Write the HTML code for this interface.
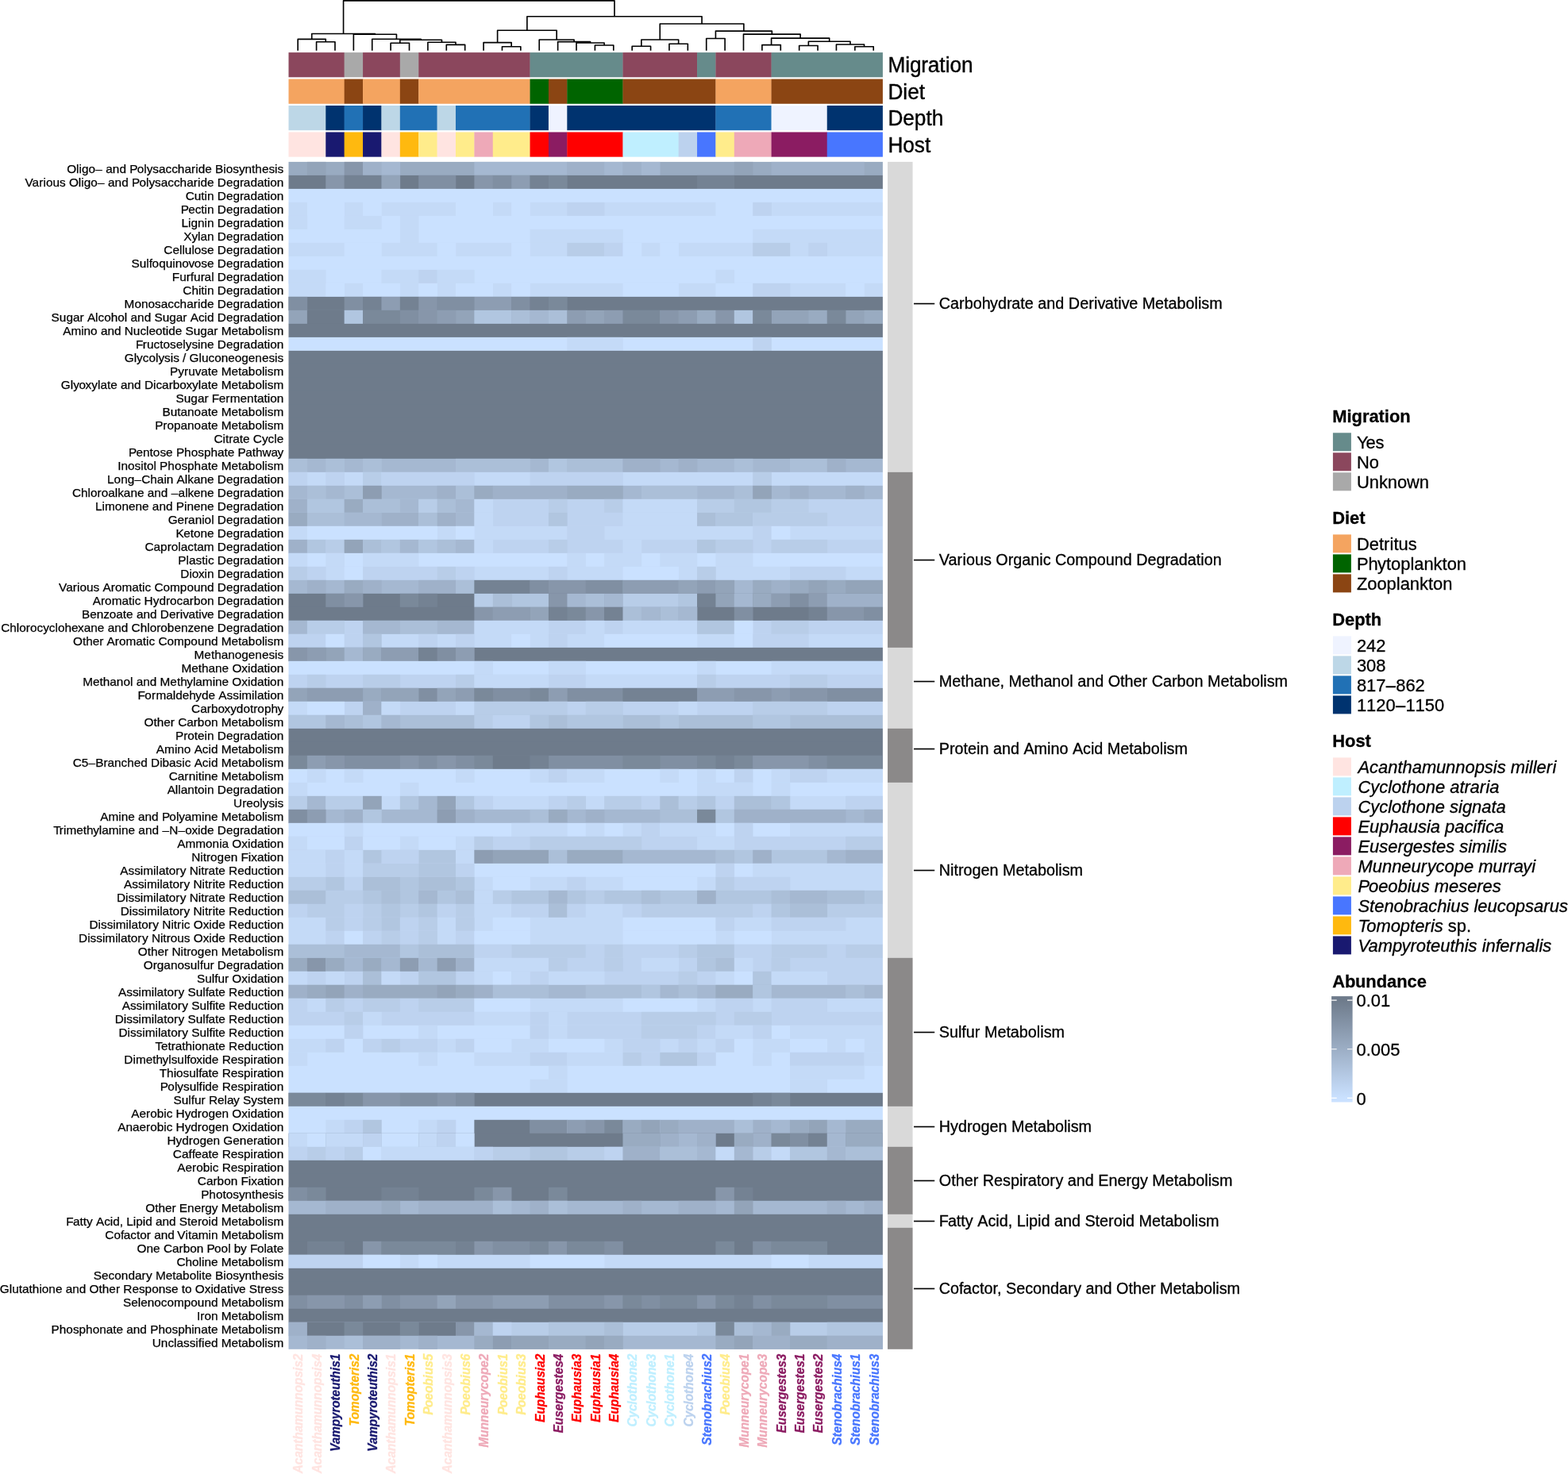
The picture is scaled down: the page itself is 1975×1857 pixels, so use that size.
<!DOCTYPE html>
<html lang="en"><head><meta charset="utf-8"><title>Abundance</title>
<style>html,body{margin:0;padding:0;background:#fff}svg{display:block}text{font-family:"Liberation Sans",sans-serif;font-kerning:none}.r{font-size:15.35px;text-anchor:end;stroke:#000;stroke-width:.25px}.c{font-size:15.35px;font-weight:bold;font-style:italic;text-anchor:end;stroke-width:.3px}.k{font-size:19.78px;stroke:#000;stroke-width:.3px}.a{font-size:26.2px;stroke:#000;stroke-width:.4px}.l{font-size:21.9px;stroke:#000;stroke-width:.3px}.t{font-size:21.9px;font-weight:bold;stroke:#000;stroke-width:.3px}.i{font-style:italic}</style></head><body>
<svg width="1975" height="1857" viewBox="0 0 1975 1857">
<rect width="1975" height="1857" fill="#fff"/>
<path d="M398.58 63.8V52.7H421.97V63.8M375.19 63.8V49.4H410.27V52.7M492.13 63.8V54.3H515.52V63.8M562.29 63.8V56.4H585.68V63.8M538.91 63.8V53.3H573.99V56.4M503.82 54.3V50.3H556.45V53.3M468.74 63.8V49.2H530.14V50.3M445.36 63.8V43.2H499.44V49.2M392.73 49.4V42.5H472.4V43.2M632.46 63.8V58.8H655.84V63.8M609.07 63.8V53.6H644.15V58.8M749.39 63.8V57H772.78V63.8M726.01 63.8V54H761.09V57M702.62 63.8V52.6H743.55V54M679.23 63.8V50H723.08V52.6M626.61 53.6V38.3H701.16V50M796.17 63.8V58.3H819.56V63.8M842.94 63.8V55.3H866.33V63.8M807.86 58.3V50H854.64V55.3M889.72 63.8V48.5H913.11V63.8M959.88 63.8V56.6H983.27V63.8M1006.66 63.8V57.5H1030.04V63.8M1076.82 63.8V58.8H1100.21V63.8M1053.43 63.8V56H1088.51V58.8M1018.35 57.5V52.3H1070.97V56M971.58 56.6V48.1H1044.66V52.3M936.49 63.8V43.1H1008.12V48.1M901.41 48.5V39.1H972.31V43.1M831.25 50V30H936.86V39.1M663.88 38.3V20.8H884.05V30M432.57 42.5V0.85H773.97V20.8" fill="none" stroke="#000" stroke-width="1.64" stroke-linejoin="round" stroke-linecap="butt"/>
<g>
<rect x="363.5" y="66.1" width="70.46" height="31.2" fill="#8B475D"/>
<rect x="433.66" y="66.1" width="23.69" height="31.2" fill="#A9A9A9"/>
<rect x="457.05" y="66.1" width="47.08" height="31.2" fill="#8B475D"/>
<rect x="503.83" y="66.1" width="23.69" height="31.2" fill="#A9A9A9"/>
<rect x="527.21" y="66.1" width="140.63" height="31.2" fill="#8B475D"/>
<rect x="667.54" y="66.1" width="117.24" height="31.2" fill="#668B8B"/>
<rect x="784.48" y="66.1" width="93.85" height="31.2" fill="#8B475D"/>
<rect x="878.03" y="66.1" width="23.69" height="31.2" fill="#668B8B"/>
<rect x="901.41" y="66.1" width="70.46" height="31.2" fill="#8B475D"/>
<rect x="971.58" y="66.1" width="140.33" height="31.2" fill="#668B8B"/>
<rect x="363.5" y="99.55" width="70.46" height="31.2" fill="#F4A460"/>
<rect x="433.66" y="99.55" width="23.69" height="31.2" fill="#8B4513"/>
<rect x="457.05" y="99.55" width="47.08" height="31.2" fill="#F4A460"/>
<rect x="503.83" y="99.55" width="23.69" height="31.2" fill="#8B4513"/>
<rect x="527.21" y="99.55" width="140.63" height="31.2" fill="#F4A460"/>
<rect x="667.54" y="99.55" width="23.69" height="31.2" fill="#006400"/>
<rect x="690.93" y="99.55" width="23.69" height="31.2" fill="#8B4513"/>
<rect x="714.31" y="99.55" width="70.46" height="31.2" fill="#006400"/>
<rect x="784.48" y="99.55" width="117.24" height="31.2" fill="#8B4513"/>
<rect x="901.41" y="99.55" width="70.46" height="31.2" fill="#F4A460"/>
<rect x="971.58" y="99.55" width="140.33" height="31.2" fill="#8B4513"/>
<rect x="363.5" y="133" width="47.08" height="31.2" fill="#BDD7E7"/>
<rect x="410.27" y="133" width="23.69" height="31.2" fill="#00336F"/>
<rect x="433.66" y="133" width="23.69" height="31.2" fill="#2171B5"/>
<rect x="457.05" y="133" width="23.69" height="31.2" fill="#00336F"/>
<rect x="480.44" y="133" width="23.69" height="31.2" fill="#BDD7E7"/>
<rect x="503.83" y="133" width="47.08" height="31.2" fill="#2171B5"/>
<rect x="550.6" y="133" width="23.69" height="31.2" fill="#BDD7E7"/>
<rect x="573.99" y="133" width="93.85" height="31.2" fill="#2171B5"/>
<rect x="667.54" y="133" width="23.69" height="31.2" fill="#00336F"/>
<rect x="690.93" y="133" width="23.69" height="31.2" fill="#EFF3FF"/>
<rect x="714.31" y="133" width="187.4" height="31.2" fill="#00336F"/>
<rect x="901.41" y="133" width="70.46" height="31.2" fill="#2171B5"/>
<rect x="971.58" y="133" width="70.46" height="31.2" fill="#EFF3FF"/>
<rect x="1041.74" y="133" width="70.16" height="31.2" fill="#00336F"/>
<rect x="363.5" y="166.45" width="47.08" height="31.2" fill="#FFE4E1"/>
<rect x="410.27" y="166.45" width="23.69" height="31.2" fill="#191970"/>
<rect x="433.66" y="166.45" width="23.69" height="31.2" fill="#FFB90F"/>
<rect x="457.05" y="166.45" width="23.69" height="31.2" fill="#191970"/>
<rect x="480.44" y="166.45" width="23.69" height="31.2" fill="#FFE4E1"/>
<rect x="503.83" y="166.45" width="23.69" height="31.2" fill="#FFB90F"/>
<rect x="527.21" y="166.45" width="23.69" height="31.2" fill="#FFEC8B"/>
<rect x="550.6" y="166.45" width="23.69" height="31.2" fill="#FFE4E1"/>
<rect x="573.99" y="166.45" width="23.69" height="31.2" fill="#FFEC8B"/>
<rect x="597.38" y="166.45" width="23.69" height="31.2" fill="#EEA9B8"/>
<rect x="620.76" y="166.45" width="47.08" height="31.2" fill="#FFEC8B"/>
<rect x="667.54" y="166.45" width="23.69" height="31.2" fill="#FF0000"/>
<rect x="690.93" y="166.45" width="23.69" height="31.2" fill="#8B1C62"/>
<rect x="714.31" y="166.45" width="70.46" height="31.2" fill="#FF0000"/>
<rect x="784.48" y="166.45" width="70.46" height="31.2" fill="#BFEFFF"/>
<rect x="854.64" y="166.45" width="23.69" height="31.2" fill="#BCD2EE"/>
<rect x="878.03" y="166.45" width="23.69" height="31.2" fill="#4876FF"/>
<rect x="901.41" y="166.45" width="23.69" height="31.2" fill="#FFEC8B"/>
<rect x="924.8" y="166.45" width="47.08" height="31.2" fill="#EEA9B8"/>
<rect x="971.58" y="166.45" width="70.46" height="31.2" fill="#8B1C62"/>
<rect x="1041.74" y="166.45" width="70.16" height="31.2" fill="#4876FF"/>
</g>
<text class="a" transform="translate(1118.4 91.3) scale(1 1.03)" dx="0 0 0 -.26 -.26">Migration</text>
<text class="a" transform="translate(1118.4 124.75) scale(1 1.03)">Diet</text>
<text class="a" transform="translate(1118.4 158.2) scale(1 1.03)">Depth</text>
<text class="a" transform="translate(1118.4 191.65) scale(1 1.03)">Host</text>
<g>
<rect x="363.5" y="203.9" width="748.4" height="17.3" fill="#99ABC1"/>
<rect x="386.89" y="203.9" width="23.69" height="17.3" fill="#93A4B9"/>
<rect x="433.66" y="203.9" width="23.69" height="17.3" fill="#8796AA"/>
<rect x="457.05" y="203.9" width="23.69" height="17.3" fill="#9FB1C9"/>
<rect x="480.44" y="203.9" width="23.69" height="17.3" fill="#A5B8D1"/>
<rect x="597.38" y="203.9" width="117.24" height="17.3" fill="#A5B8D1"/>
<rect x="714.31" y="203.9" width="47.08" height="17.3" fill="#9FB1C9"/>
<rect x="761.09" y="203.9" width="23.69" height="17.3" fill="#A5B8D1"/>
<rect x="784.48" y="203.9" width="23.69" height="17.3" fill="#9FB1C9"/>
<rect x="807.86" y="203.9" width="23.69" height="17.3" fill="#A5B8D1"/>
<rect x="924.8" y="203.9" width="23.69" height="17.3" fill="#93A4B9"/>
<rect x="971.58" y="203.9" width="117.24" height="17.3" fill="#9FB1C9"/>
<rect x="363.5" y="220.9" width="748.4" height="17.3" fill="#6E7B8B"/>
<rect x="410.27" y="220.9" width="23.69" height="17.3" fill="#8796AA"/>
<rect x="433.66" y="220.9" width="47.08" height="17.3" fill="#748293"/>
<rect x="480.44" y="220.9" width="23.69" height="17.3" fill="#93A4B9"/>
<rect x="527.21" y="220.9" width="47.08" height="17.3" fill="#808FA2"/>
<rect x="597.38" y="220.9" width="23.69" height="17.3" fill="#8796AA"/>
<rect x="620.76" y="220.9" width="23.69" height="17.3" fill="#808FA2"/>
<rect x="644.15" y="220.9" width="23.69" height="17.3" fill="#8D9DB2"/>
<rect x="667.54" y="220.9" width="23.69" height="17.3" fill="#748293"/>
<rect x="690.93" y="220.9" width="23.69" height="17.3" fill="#7A899A"/>
<rect x="878.03" y="220.9" width="47.08" height="17.3" fill="#748293"/>
<rect x="363.5" y="237.9" width="748.4" height="17.3" fill="#CAE1FF"/>
<rect x="363.5" y="254.9" width="748.4" height="17.3" fill="#C4DAF7"/>
<rect x="386.89" y="254.9" width="47.08" height="17.3" fill="#CAE1FF"/>
<rect x="457.05" y="254.9" width="23.69" height="17.3" fill="#CAE1FF"/>
<rect x="573.99" y="254.9" width="47.08" height="17.3" fill="#CAE1FF"/>
<rect x="644.15" y="254.9" width="23.69" height="17.3" fill="#CAE1FF"/>
<rect x="714.31" y="254.9" width="47.08" height="17.3" fill="#BED3F0"/>
<rect x="901.41" y="254.9" width="47.08" height="17.3" fill="#CAE1FF"/>
<rect x="948.19" y="254.9" width="23.69" height="17.3" fill="#BED3F0"/>
<rect x="363.5" y="271.9" width="748.4" height="17.3" fill="#CAE1FF"/>
<rect x="363.5" y="271.9" width="23.69" height="17.3" fill="#C4DAF7"/>
<rect x="433.66" y="271.9" width="47.08" height="17.3" fill="#C4DAF7"/>
<rect x="503.83" y="271.9" width="23.69" height="17.3" fill="#C4DAF7"/>
<rect x="363.5" y="288.89" width="748.4" height="17.3" fill="#CAE1FF"/>
<rect x="503.83" y="288.89" width="23.69" height="17.3" fill="#C4DAF7"/>
<rect x="667.54" y="288.89" width="117.24" height="17.3" fill="#C4DAF7"/>
<rect x="948.19" y="288.89" width="163.71" height="17.3" fill="#C4DAF7"/>
<rect x="363.5" y="305.89" width="748.4" height="17.3" fill="#C4DAF7"/>
<rect x="433.66" y="305.89" width="47.08" height="17.3" fill="#CAE1FF"/>
<rect x="550.6" y="305.89" width="23.69" height="17.3" fill="#CAE1FF"/>
<rect x="644.15" y="305.89" width="23.69" height="17.3" fill="#CAE1FF"/>
<rect x="714.31" y="305.89" width="47.08" height="17.3" fill="#B8CDE8"/>
<rect x="761.09" y="305.89" width="23.69" height="17.3" fill="#BED3F0"/>
<rect x="784.48" y="305.89" width="23.69" height="17.3" fill="#CAE1FF"/>
<rect x="831.25" y="305.89" width="23.69" height="17.3" fill="#CAE1FF"/>
<rect x="948.19" y="305.89" width="47.08" height="17.3" fill="#B8CDE8"/>
<rect x="1018.35" y="305.89" width="23.69" height="17.3" fill="#BED3F0"/>
<rect x="363.5" y="322.89" width="748.4" height="17.3" fill="#CAE1FF"/>
<rect x="363.5" y="339.89" width="748.4" height="17.3" fill="#CAE1FF"/>
<rect x="363.5" y="339.89" width="47.08" height="17.3" fill="#C4DAF7"/>
<rect x="480.44" y="339.89" width="47.08" height="17.3" fill="#C4DAF7"/>
<rect x="527.21" y="339.89" width="23.69" height="17.3" fill="#BED3F0"/>
<rect x="550.6" y="339.89" width="47.08" height="17.3" fill="#C4DAF7"/>
<rect x="901.41" y="339.89" width="23.69" height="17.3" fill="#C4DAF7"/>
<rect x="363.5" y="356.89" width="748.4" height="17.3" fill="#C4DAF7"/>
<rect x="410.27" y="356.89" width="23.69" height="17.3" fill="#CAE1FF"/>
<rect x="457.05" y="356.89" width="47.08" height="17.3" fill="#CAE1FF"/>
<rect x="527.21" y="356.89" width="23.69" height="17.3" fill="#CAE1FF"/>
<rect x="573.99" y="356.89" width="47.08" height="17.3" fill="#CAE1FF"/>
<rect x="644.15" y="356.89" width="23.69" height="17.3" fill="#CAE1FF"/>
<rect x="784.48" y="356.89" width="70.46" height="17.3" fill="#CAE1FF"/>
<rect x="901.41" y="356.89" width="47.08" height="17.3" fill="#CAE1FF"/>
<rect x="948.19" y="356.89" width="47.08" height="17.3" fill="#BED3F0"/>
<rect x="1065.12" y="356.89" width="23.69" height="17.3" fill="#CAE1FF"/>
<rect x="363.5" y="373.89" width="748.4" height="17.3" fill="#6E7B8B"/>
<rect x="363.5" y="373.89" width="23.69" height="17.3" fill="#808FA2"/>
<rect x="433.66" y="373.89" width="23.69" height="17.3" fill="#808FA2"/>
<rect x="457.05" y="373.89" width="23.69" height="17.3" fill="#748293"/>
<rect x="480.44" y="373.89" width="23.69" height="17.3" fill="#8D9DB2"/>
<rect x="503.83" y="373.89" width="23.69" height="17.3" fill="#748293"/>
<rect x="527.21" y="373.89" width="23.69" height="17.3" fill="#8796AA"/>
<rect x="550.6" y="373.89" width="47.08" height="17.3" fill="#808FA2"/>
<rect x="597.38" y="373.89" width="47.08" height="17.3" fill="#8D9DB2"/>
<rect x="644.15" y="373.89" width="23.69" height="17.3" fill="#808FA2"/>
<rect x="667.54" y="373.89" width="23.69" height="17.3" fill="#748293"/>
<rect x="690.93" y="373.89" width="23.69" height="17.3" fill="#7A899A"/>
<rect x="363.5" y="390.89" width="748.4" height="17.3" fill="#93A4B9"/>
<rect x="386.89" y="390.89" width="47.08" height="17.3" fill="#6E7B8B"/>
<rect x="433.66" y="390.89" width="23.69" height="17.3" fill="#B1C6E0"/>
<rect x="457.05" y="390.89" width="47.08" height="17.3" fill="#7A899A"/>
<rect x="503.83" y="390.89" width="23.69" height="17.3" fill="#808FA2"/>
<rect x="527.21" y="390.89" width="23.69" height="17.3" fill="#8796AA"/>
<rect x="550.6" y="390.89" width="23.69" height="17.3" fill="#8D9DB2"/>
<rect x="597.38" y="390.89" width="47.08" height="17.3" fill="#B1C6E0"/>
<rect x="644.15" y="390.89" width="23.69" height="17.3" fill="#ABBFD8"/>
<rect x="667.54" y="390.89" width="23.69" height="17.3" fill="#A5B8D1"/>
<rect x="690.93" y="390.89" width="23.69" height="17.3" fill="#ABBFD8"/>
<rect x="714.31" y="390.89" width="23.69" height="17.3" fill="#8D9DB2"/>
<rect x="761.09" y="390.89" width="23.69" height="17.3" fill="#8D9DB2"/>
<rect x="784.48" y="390.89" width="47.08" height="17.3" fill="#7A899A"/>
<rect x="831.25" y="390.89" width="23.69" height="17.3" fill="#8796AA"/>
<rect x="854.64" y="390.89" width="23.69" height="17.3" fill="#8D9DB2"/>
<rect x="878.03" y="390.89" width="23.69" height="17.3" fill="#99ABC1"/>
<rect x="901.41" y="390.89" width="23.69" height="17.3" fill="#8796AA"/>
<rect x="924.8" y="390.89" width="23.69" height="17.3" fill="#B1C6E0"/>
<rect x="948.19" y="390.89" width="23.69" height="17.3" fill="#7A899A"/>
<rect x="1018.35" y="390.89" width="23.69" height="17.3" fill="#99ABC1"/>
<rect x="1041.74" y="390.89" width="23.69" height="17.3" fill="#7A899A"/>
<rect x="1088.51" y="390.89" width="23.39" height="17.3" fill="#99ABC1"/>
<rect x="363.5" y="407.89" width="748.4" height="17.3" fill="#6E7B8B"/>
<rect x="363.5" y="424.89" width="748.4" height="17.3" fill="#CAE1FF"/>
<rect x="714.31" y="424.89" width="70.46" height="17.3" fill="#C4DAF7"/>
<rect x="948.19" y="424.89" width="23.69" height="17.3" fill="#BED3F0"/>
<rect x="363.5" y="441.88" width="748.4" height="17.3" fill="#6E7B8B"/>
<rect x="363.5" y="458.88" width="748.4" height="17.3" fill="#6E7B8B"/>
<rect x="363.5" y="475.88" width="748.4" height="17.3" fill="#6E7B8B"/>
<rect x="363.5" y="492.88" width="748.4" height="17.3" fill="#6E7B8B"/>
<rect x="363.5" y="509.88" width="748.4" height="17.3" fill="#6E7B8B"/>
<rect x="363.5" y="526.88" width="748.4" height="17.3" fill="#6E7B8B"/>
<rect x="363.5" y="543.88" width="748.4" height="17.3" fill="#6E7B8B"/>
<rect x="363.5" y="560.88" width="748.4" height="17.3" fill="#6E7B8B"/>
<rect x="363.5" y="577.88" width="748.4" height="17.3" fill="#A5B8D1"/>
<rect x="363.5" y="577.88" width="23.69" height="17.3" fill="#ABBFD8"/>
<rect x="410.27" y="577.88" width="23.69" height="17.3" fill="#ABBFD8"/>
<rect x="457.05" y="577.88" width="23.69" height="17.3" fill="#ABBFD8"/>
<rect x="573.99" y="577.88" width="93.85" height="17.3" fill="#ABBFD8"/>
<rect x="690.93" y="577.88" width="23.69" height="17.3" fill="#B1C6E0"/>
<rect x="714.31" y="577.88" width="70.46" height="17.3" fill="#ABBFD8"/>
<rect x="784.48" y="577.88" width="47.08" height="17.3" fill="#9FB1C9"/>
<rect x="854.64" y="577.88" width="23.69" height="17.3" fill="#9FB1C9"/>
<rect x="924.8" y="577.88" width="23.69" height="17.3" fill="#ABBFD8"/>
<rect x="994.96" y="577.88" width="47.08" height="17.3" fill="#ABBFD8"/>
<rect x="1041.74" y="577.88" width="23.69" height="17.3" fill="#9FB1C9"/>
<rect x="363.5" y="594.87" width="748.4" height="17.3" fill="#C4DAF7"/>
<rect x="363.5" y="594.87" width="23.69" height="17.3" fill="#BED3F0"/>
<rect x="410.27" y="594.87" width="23.69" height="17.3" fill="#BED3F0"/>
<rect x="457.05" y="594.87" width="23.69" height="17.3" fill="#B8CDE8"/>
<rect x="480.44" y="594.87" width="117.24" height="17.3" fill="#BED3F0"/>
<rect x="667.54" y="594.87" width="117.24" height="17.3" fill="#BED3F0"/>
<rect x="948.19" y="594.87" width="23.69" height="17.3" fill="#B8CDE8"/>
<rect x="363.5" y="611.87" width="748.4" height="17.3" fill="#A5B8D1"/>
<rect x="386.89" y="611.87" width="23.69" height="17.3" fill="#ABBFD8"/>
<rect x="433.66" y="611.87" width="23.69" height="17.3" fill="#ABBFD8"/>
<rect x="457.05" y="611.87" width="23.69" height="17.3" fill="#8D9DB2"/>
<rect x="550.6" y="611.87" width="23.69" height="17.3" fill="#9FB1C9"/>
<rect x="573.99" y="611.87" width="23.69" height="17.3" fill="#ABBFD8"/>
<rect x="597.38" y="611.87" width="23.69" height="17.3" fill="#99ABC1"/>
<rect x="620.76" y="611.87" width="93.85" height="17.3" fill="#9FB1C9"/>
<rect x="714.31" y="611.87" width="70.46" height="17.3" fill="#99ABC1"/>
<rect x="807.86" y="611.87" width="70.46" height="17.3" fill="#ABBFD8"/>
<rect x="924.8" y="611.87" width="23.69" height="17.3" fill="#ABBFD8"/>
<rect x="948.19" y="611.87" width="23.69" height="17.3" fill="#93A4B9"/>
<rect x="994.96" y="611.87" width="23.69" height="17.3" fill="#9FB1C9"/>
<rect x="1065.12" y="611.87" width="23.69" height="17.3" fill="#9FB1C9"/>
<rect x="363.5" y="628.87" width="748.4" height="17.3" fill="#BED3F0"/>
<rect x="363.5" y="628.87" width="23.69" height="17.3" fill="#9FB1C9"/>
<rect x="386.89" y="628.87" width="47.08" height="17.3" fill="#B1C6E0"/>
<rect x="433.66" y="628.87" width="23.69" height="17.3" fill="#99ABC1"/>
<rect x="457.05" y="628.87" width="47.08" height="17.3" fill="#ABBFD8"/>
<rect x="503.83" y="628.87" width="23.69" height="17.3" fill="#A5B8D1"/>
<rect x="527.21" y="628.87" width="23.69" height="17.3" fill="#B8CDE8"/>
<rect x="550.6" y="628.87" width="23.69" height="17.3" fill="#ABBFD8"/>
<rect x="573.99" y="628.87" width="23.69" height="17.3" fill="#A5B8D1"/>
<rect x="597.38" y="628.87" width="23.69" height="17.3" fill="#C4DAF7"/>
<rect x="690.93" y="628.87" width="23.69" height="17.3" fill="#B8CDE8"/>
<rect x="761.09" y="628.87" width="23.69" height="17.3" fill="#B8CDE8"/>
<rect x="784.48" y="628.87" width="93.85" height="17.3" fill="#C4DAF7"/>
<rect x="878.03" y="628.87" width="47.08" height="17.3" fill="#B8CDE8"/>
<rect x="924.8" y="628.87" width="47.08" height="17.3" fill="#B1C6E0"/>
<rect x="971.58" y="628.87" width="47.08" height="17.3" fill="#B8CDE8"/>
<rect x="363.5" y="645.87" width="748.4" height="17.3" fill="#BED3F0"/>
<rect x="363.5" y="645.87" width="23.69" height="17.3" fill="#99ABC1"/>
<rect x="386.89" y="645.87" width="47.08" height="17.3" fill="#ABBFD8"/>
<rect x="433.66" y="645.87" width="47.08" height="17.3" fill="#A5B8D1"/>
<rect x="480.44" y="645.87" width="47.08" height="17.3" fill="#9FB1C9"/>
<rect x="527.21" y="645.87" width="23.69" height="17.3" fill="#ABBFD8"/>
<rect x="550.6" y="645.87" width="23.69" height="17.3" fill="#9FB1C9"/>
<rect x="573.99" y="645.87" width="23.69" height="17.3" fill="#A5B8D1"/>
<rect x="597.38" y="645.87" width="23.69" height="17.3" fill="#C4DAF7"/>
<rect x="690.93" y="645.87" width="23.69" height="17.3" fill="#B1C6E0"/>
<rect x="784.48" y="645.87" width="93.85" height="17.3" fill="#C4DAF7"/>
<rect x="878.03" y="645.87" width="23.69" height="17.3" fill="#ABBFD8"/>
<rect x="901.41" y="645.87" width="47.08" height="17.3" fill="#B1C6E0"/>
<rect x="948.19" y="645.87" width="93.85" height="17.3" fill="#B8CDE8"/>
<rect x="363.5" y="662.87" width="748.4" height="17.3" fill="#C4DAF7"/>
<rect x="386.89" y="662.87" width="164.01" height="17.3" fill="#CAE1FF"/>
<rect x="573.99" y="662.87" width="23.69" height="17.3" fill="#CAE1FF"/>
<rect x="714.31" y="662.87" width="47.08" height="17.3" fill="#BED3F0"/>
<rect x="948.19" y="662.87" width="23.69" height="17.3" fill="#BED3F0"/>
<rect x="971.58" y="662.87" width="23.69" height="17.3" fill="#CAE1FF"/>
<rect x="363.5" y="679.87" width="748.4" height="17.3" fill="#BED3F0"/>
<rect x="363.5" y="679.87" width="23.69" height="17.3" fill="#9FB1C9"/>
<rect x="386.89" y="679.87" width="23.69" height="17.3" fill="#B1C6E0"/>
<rect x="410.27" y="679.87" width="23.69" height="17.3" fill="#B8CDE8"/>
<rect x="433.66" y="679.87" width="23.69" height="17.3" fill="#93A4B9"/>
<rect x="457.05" y="679.87" width="23.69" height="17.3" fill="#ABBFD8"/>
<rect x="480.44" y="679.87" width="23.69" height="17.3" fill="#B1C6E0"/>
<rect x="503.83" y="679.87" width="23.69" height="17.3" fill="#A5B8D1"/>
<rect x="527.21" y="679.87" width="23.69" height="17.3" fill="#B1C6E0"/>
<rect x="550.6" y="679.87" width="23.69" height="17.3" fill="#ABBFD8"/>
<rect x="573.99" y="679.87" width="23.69" height="17.3" fill="#A5B8D1"/>
<rect x="597.38" y="679.87" width="23.69" height="17.3" fill="#C4DAF7"/>
<rect x="690.93" y="679.87" width="23.69" height="17.3" fill="#B8CDE8"/>
<rect x="784.48" y="679.87" width="23.69" height="17.3" fill="#C4DAF7"/>
<rect x="878.03" y="679.87" width="23.69" height="17.3" fill="#B1C6E0"/>
<rect x="901.41" y="679.87" width="47.08" height="17.3" fill="#B8CDE8"/>
<rect x="971.58" y="679.87" width="70.46" height="17.3" fill="#B8CDE8"/>
<rect x="363.5" y="696.87" width="748.4" height="17.3" fill="#CAE1FF"/>
<rect x="363.5" y="696.87" width="23.69" height="17.3" fill="#C4DAF7"/>
<rect x="410.27" y="696.87" width="23.69" height="17.3" fill="#C4DAF7"/>
<rect x="457.05" y="696.87" width="70.46" height="17.3" fill="#C4DAF7"/>
<rect x="714.31" y="696.87" width="23.69" height="17.3" fill="#C4DAF7"/>
<rect x="761.09" y="696.87" width="47.08" height="17.3" fill="#C4DAF7"/>
<rect x="831.25" y="696.87" width="47.08" height="17.3" fill="#C4DAF7"/>
<rect x="901.41" y="696.87" width="47.08" height="17.3" fill="#C4DAF7"/>
<rect x="363.5" y="713.87" width="748.4" height="17.3" fill="#C4DAF7"/>
<rect x="363.5" y="713.87" width="23.69" height="17.3" fill="#B8CDE8"/>
<rect x="386.89" y="713.87" width="23.69" height="17.3" fill="#BED3F0"/>
<rect x="433.66" y="713.87" width="23.69" height="17.3" fill="#CAE1FF"/>
<rect x="457.05" y="713.87" width="93.85" height="17.3" fill="#BED3F0"/>
<rect x="550.6" y="713.87" width="23.69" height="17.3" fill="#B8CDE8"/>
<rect x="573.99" y="713.87" width="23.69" height="17.3" fill="#BED3F0"/>
<rect x="690.93" y="713.87" width="23.69" height="17.3" fill="#BED3F0"/>
<rect x="784.48" y="713.87" width="70.46" height="17.3" fill="#CAE1FF"/>
<rect x="878.03" y="713.87" width="23.69" height="17.3" fill="#B8CDE8"/>
<rect x="994.96" y="713.87" width="70.46" height="17.3" fill="#BED3F0"/>
<rect x="363.5" y="730.86" width="748.4" height="17.3" fill="#A5B8D1"/>
<rect x="386.89" y="730.86" width="23.69" height="17.3" fill="#9FB1C9"/>
<rect x="433.66" y="730.86" width="23.69" height="17.3" fill="#99ABC1"/>
<rect x="457.05" y="730.86" width="23.69" height="17.3" fill="#9FB1C9"/>
<rect x="527.21" y="730.86" width="47.08" height="17.3" fill="#9FB1C9"/>
<rect x="573.99" y="730.86" width="23.69" height="17.3" fill="#ABBFD8"/>
<rect x="597.38" y="730.86" width="70.46" height="17.3" fill="#748293"/>
<rect x="667.54" y="730.86" width="23.69" height="17.3" fill="#808FA2"/>
<rect x="690.93" y="730.86" width="47.08" height="17.3" fill="#8796AA"/>
<rect x="737.7" y="730.86" width="47.08" height="17.3" fill="#808FA2"/>
<rect x="784.48" y="730.86" width="70.46" height="17.3" fill="#8D9DB2"/>
<rect x="854.64" y="730.86" width="23.69" height="17.3" fill="#93A4B9"/>
<rect x="878.03" y="730.86" width="23.69" height="17.3" fill="#8D9DB2"/>
<rect x="901.41" y="730.86" width="23.69" height="17.3" fill="#93A4B9"/>
<rect x="948.19" y="730.86" width="23.69" height="17.3" fill="#99ABC1"/>
<rect x="971.58" y="730.86" width="23.69" height="17.3" fill="#9FB1C9"/>
<rect x="994.96" y="730.86" width="23.69" height="17.3" fill="#99ABC1"/>
<rect x="1018.35" y="730.86" width="23.69" height="17.3" fill="#93A4B9"/>
<rect x="1041.74" y="730.86" width="23.69" height="17.3" fill="#99ABC1"/>
<rect x="1065.12" y="730.86" width="46.78" height="17.3" fill="#93A4B9"/>
<rect x="363.5" y="747.86" width="748.4" height="17.3" fill="#6E7B8B"/>
<rect x="410.27" y="747.86" width="23.69" height="17.3" fill="#808FA2"/>
<rect x="433.66" y="747.86" width="23.69" height="17.3" fill="#8796AA"/>
<rect x="503.83" y="747.86" width="23.69" height="17.3" fill="#7A899A"/>
<rect x="527.21" y="747.86" width="23.69" height="17.3" fill="#748293"/>
<rect x="597.38" y="747.86" width="23.69" height="17.3" fill="#B8CDE8"/>
<rect x="620.76" y="747.86" width="23.69" height="17.3" fill="#ABBFD8"/>
<rect x="644.15" y="747.86" width="47.08" height="17.3" fill="#B1C6E0"/>
<rect x="690.93" y="747.86" width="23.69" height="17.3" fill="#8796AA"/>
<rect x="714.31" y="747.86" width="23.69" height="17.3" fill="#A5B8D1"/>
<rect x="737.7" y="747.86" width="23.69" height="17.3" fill="#ABBFD8"/>
<rect x="761.09" y="747.86" width="23.69" height="17.3" fill="#A5B8D1"/>
<rect x="784.48" y="747.86" width="70.46" height="17.3" fill="#B8CDE8"/>
<rect x="854.64" y="747.86" width="23.69" height="17.3" fill="#B1C6E0"/>
<rect x="878.03" y="747.86" width="23.69" height="17.3" fill="#748293"/>
<rect x="901.41" y="747.86" width="23.69" height="17.3" fill="#93A4B9"/>
<rect x="924.8" y="747.86" width="23.69" height="17.3" fill="#A5B8D1"/>
<rect x="948.19" y="747.86" width="23.69" height="17.3" fill="#99ABC1"/>
<rect x="971.58" y="747.86" width="23.69" height="17.3" fill="#8D9DB2"/>
<rect x="994.96" y="747.86" width="23.69" height="17.3" fill="#808FA2"/>
<rect x="1018.35" y="747.86" width="23.69" height="17.3" fill="#8D9DB2"/>
<rect x="1041.74" y="747.86" width="70.16" height="17.3" fill="#9FB1C9"/>
<rect x="363.5" y="764.86" width="748.4" height="17.3" fill="#6E7B8B"/>
<rect x="597.38" y="764.86" width="23.69" height="17.3" fill="#8796AA"/>
<rect x="620.76" y="764.86" width="47.08" height="17.3" fill="#8D9DB2"/>
<rect x="667.54" y="764.86" width="23.69" height="17.3" fill="#93A4B9"/>
<rect x="690.93" y="764.86" width="23.69" height="17.3" fill="#748293"/>
<rect x="714.31" y="764.86" width="23.69" height="17.3" fill="#7A899A"/>
<rect x="737.7" y="764.86" width="23.69" height="17.3" fill="#8796AA"/>
<rect x="761.09" y="764.86" width="23.69" height="17.3" fill="#748293"/>
<rect x="784.48" y="764.86" width="23.69" height="17.3" fill="#ABBFD8"/>
<rect x="807.86" y="764.86" width="23.69" height="17.3" fill="#A5B8D1"/>
<rect x="831.25" y="764.86" width="23.69" height="17.3" fill="#ABBFD8"/>
<rect x="854.64" y="764.86" width="23.69" height="17.3" fill="#A5B8D1"/>
<rect x="924.8" y="764.86" width="23.69" height="17.3" fill="#808FA2"/>
<rect x="1018.35" y="764.86" width="23.69" height="17.3" fill="#748293"/>
<rect x="1041.74" y="764.86" width="47.08" height="17.3" fill="#8796AA"/>
<rect x="1088.51" y="764.86" width="23.39" height="17.3" fill="#808FA2"/>
<rect x="363.5" y="781.86" width="748.4" height="17.3" fill="#BED3F0"/>
<rect x="363.5" y="781.86" width="23.69" height="17.3" fill="#A5B8D1"/>
<rect x="386.89" y="781.86" width="47.08" height="17.3" fill="#B8CDE8"/>
<rect x="457.05" y="781.86" width="47.08" height="17.3" fill="#A5B8D1"/>
<rect x="503.83" y="781.86" width="47.08" height="17.3" fill="#ABBFD8"/>
<rect x="550.6" y="781.86" width="47.08" height="17.3" fill="#A5B8D1"/>
<rect x="597.38" y="781.86" width="93.85" height="17.3" fill="#C4DAF7"/>
<rect x="737.7" y="781.86" width="23.69" height="17.3" fill="#C4DAF7"/>
<rect x="784.48" y="781.86" width="93.85" height="17.3" fill="#C4DAF7"/>
<rect x="878.03" y="781.86" width="47.08" height="17.3" fill="#B1C6E0"/>
<rect x="924.8" y="781.86" width="23.69" height="17.3" fill="#CAE1FF"/>
<rect x="971.58" y="781.86" width="47.08" height="17.3" fill="#B8CDE8"/>
<rect x="363.5" y="798.86" width="748.4" height="17.3" fill="#C4DAF7"/>
<rect x="363.5" y="798.86" width="47.08" height="17.3" fill="#BED3F0"/>
<rect x="410.27" y="798.86" width="23.69" height="17.3" fill="#CAE1FF"/>
<rect x="433.66" y="798.86" width="23.69" height="17.3" fill="#BED3F0"/>
<rect x="457.05" y="798.86" width="23.69" height="17.3" fill="#B1C6E0"/>
<rect x="527.21" y="798.86" width="23.69" height="17.3" fill="#BED3F0"/>
<rect x="573.99" y="798.86" width="23.69" height="17.3" fill="#BED3F0"/>
<rect x="644.15" y="798.86" width="23.69" height="17.3" fill="#CAE1FF"/>
<rect x="690.93" y="798.86" width="23.69" height="17.3" fill="#BED3F0"/>
<rect x="761.09" y="798.86" width="117.24" height="17.3" fill="#CAE1FF"/>
<rect x="924.8" y="798.86" width="23.69" height="17.3" fill="#CAE1FF"/>
<rect x="948.19" y="798.86" width="70.46" height="17.3" fill="#BED3F0"/>
<rect x="363.5" y="815.86" width="748.4" height="17.3" fill="#6E7B8B"/>
<rect x="363.5" y="815.86" width="23.69" height="17.3" fill="#8796AA"/>
<rect x="386.89" y="815.86" width="23.69" height="17.3" fill="#8D9DB2"/>
<rect x="410.27" y="815.86" width="23.69" height="17.3" fill="#93A4B9"/>
<rect x="433.66" y="815.86" width="23.69" height="17.3" fill="#A5B8D1"/>
<rect x="457.05" y="815.86" width="23.69" height="17.3" fill="#99ABC1"/>
<rect x="480.44" y="815.86" width="47.08" height="17.3" fill="#8D9DB2"/>
<rect x="527.21" y="815.86" width="23.69" height="17.3" fill="#748293"/>
<rect x="550.6" y="815.86" width="23.69" height="17.3" fill="#808FA2"/>
<rect x="573.99" y="815.86" width="23.69" height="17.3" fill="#8D9DB2"/>
<rect x="363.5" y="832.86" width="748.4" height="17.3" fill="#CAE1FF"/>
<rect x="597.38" y="832.86" width="23.69" height="17.3" fill="#C4DAF7"/>
<rect x="690.93" y="832.86" width="47.08" height="17.3" fill="#C4DAF7"/>
<rect x="878.03" y="832.86" width="23.69" height="17.3" fill="#C4DAF7"/>
<rect x="971.58" y="832.86" width="140.33" height="17.3" fill="#C4DAF7"/>
<rect x="363.5" y="849.86" width="748.4" height="17.3" fill="#BED3F0"/>
<rect x="386.89" y="849.86" width="23.69" height="17.3" fill="#B8CDE8"/>
<rect x="457.05" y="849.86" width="47.08" height="17.3" fill="#B8CDE8"/>
<rect x="573.99" y="849.86" width="23.69" height="17.3" fill="#B8CDE8"/>
<rect x="597.38" y="849.86" width="93.85" height="17.3" fill="#C4DAF7"/>
<rect x="737.7" y="849.86" width="140.63" height="17.3" fill="#C4DAF7"/>
<rect x="878.03" y="849.86" width="23.69" height="17.3" fill="#B8CDE8"/>
<rect x="994.96" y="849.86" width="47.08" height="17.3" fill="#B8CDE8"/>
<rect x="363.5" y="866.86" width="748.4" height="17.3" fill="#808FA2"/>
<rect x="363.5" y="866.86" width="23.69" height="17.3" fill="#93A4B9"/>
<rect x="386.89" y="866.86" width="70.46" height="17.3" fill="#8D9DB2"/>
<rect x="457.05" y="866.86" width="23.69" height="17.3" fill="#99ABC1"/>
<rect x="480.44" y="866.86" width="47.08" height="17.3" fill="#93A4B9"/>
<rect x="550.6" y="866.86" width="23.69" height="17.3" fill="#93A4B9"/>
<rect x="573.99" y="866.86" width="23.69" height="17.3" fill="#8D9DB2"/>
<rect x="597.38" y="866.86" width="23.69" height="17.3" fill="#7A899A"/>
<rect x="667.54" y="866.86" width="23.69" height="17.3" fill="#7A899A"/>
<rect x="690.93" y="866.86" width="23.69" height="17.3" fill="#8D9DB2"/>
<rect x="784.48" y="866.86" width="93.85" height="17.3" fill="#748293"/>
<rect x="878.03" y="866.86" width="47.08" height="17.3" fill="#8D9DB2"/>
<rect x="924.8" y="866.86" width="47.08" height="17.3" fill="#8796AA"/>
<rect x="971.58" y="866.86" width="23.69" height="17.3" fill="#8D9DB2"/>
<rect x="994.96" y="866.86" width="47.08" height="17.3" fill="#8796AA"/>
<rect x="363.5" y="883.85" width="748.4" height="17.3" fill="#BED3F0"/>
<rect x="363.5" y="883.85" width="23.69" height="17.3" fill="#C4DAF7"/>
<rect x="386.89" y="883.85" width="47.08" height="17.3" fill="#CAE1FF"/>
<rect x="457.05" y="883.85" width="23.69" height="17.3" fill="#9FB1C9"/>
<rect x="480.44" y="883.85" width="23.69" height="17.3" fill="#C4DAF7"/>
<rect x="573.99" y="883.85" width="23.69" height="17.3" fill="#C4DAF7"/>
<rect x="597.38" y="883.85" width="117.24" height="17.3" fill="#B8CDE8"/>
<rect x="737.7" y="883.85" width="47.08" height="17.3" fill="#B8CDE8"/>
<rect x="854.64" y="883.85" width="23.69" height="17.3" fill="#C4DAF7"/>
<rect x="948.19" y="883.85" width="93.85" height="17.3" fill="#B8CDE8"/>
<rect x="363.5" y="900.85" width="748.4" height="17.3" fill="#ABBFD8"/>
<rect x="363.5" y="900.85" width="47.08" height="17.3" fill="#B1C6E0"/>
<rect x="410.27" y="900.85" width="23.69" height="17.3" fill="#A5B8D1"/>
<rect x="457.05" y="900.85" width="23.69" height="17.3" fill="#B1C6E0"/>
<rect x="480.44" y="900.85" width="23.69" height="17.3" fill="#A5B8D1"/>
<rect x="597.38" y="900.85" width="23.69" height="17.3" fill="#B8CDE8"/>
<rect x="620.76" y="900.85" width="47.08" height="17.3" fill="#BED3F0"/>
<rect x="667.54" y="900.85" width="23.69" height="17.3" fill="#B1C6E0"/>
<rect x="714.31" y="900.85" width="70.46" height="17.3" fill="#B1C6E0"/>
<rect x="831.25" y="900.85" width="23.69" height="17.3" fill="#B1C6E0"/>
<rect x="948.19" y="900.85" width="47.08" height="17.3" fill="#B1C6E0"/>
<rect x="363.5" y="917.85" width="748.4" height="17.3" fill="#6E7B8B"/>
<rect x="363.5" y="934.85" width="748.4" height="17.3" fill="#6E7B8B"/>
<rect x="363.5" y="951.85" width="748.4" height="17.3" fill="#808FA2"/>
<rect x="363.5" y="951.85" width="23.69" height="17.3" fill="#7A899A"/>
<rect x="386.89" y="951.85" width="23.69" height="17.3" fill="#8D9DB2"/>
<rect x="410.27" y="951.85" width="23.69" height="17.3" fill="#8796AA"/>
<rect x="503.83" y="951.85" width="23.69" height="17.3" fill="#8796AA"/>
<rect x="550.6" y="951.85" width="23.69" height="17.3" fill="#8796AA"/>
<rect x="597.38" y="951.85" width="23.69" height="17.3" fill="#7A899A"/>
<rect x="620.76" y="951.85" width="47.08" height="17.3" fill="#6E7B8B"/>
<rect x="667.54" y="951.85" width="23.69" height="17.3" fill="#748293"/>
<rect x="784.48" y="951.85" width="47.08" height="17.3" fill="#7A899A"/>
<rect x="878.03" y="951.85" width="23.69" height="17.3" fill="#7A899A"/>
<rect x="901.41" y="951.85" width="23.69" height="17.3" fill="#748293"/>
<rect x="924.8" y="951.85" width="23.69" height="17.3" fill="#7A899A"/>
<rect x="948.19" y="951.85" width="70.46" height="17.3" fill="#8796AA"/>
<rect x="1041.74" y="951.85" width="70.16" height="17.3" fill="#7A899A"/>
<rect x="363.5" y="968.85" width="748.4" height="17.3" fill="#CAE1FF"/>
<rect x="386.89" y="968.85" width="23.69" height="17.3" fill="#C4DAF7"/>
<rect x="433.66" y="968.85" width="23.69" height="17.3" fill="#C4DAF7"/>
<rect x="573.99" y="968.85" width="23.69" height="17.3" fill="#C4DAF7"/>
<rect x="667.54" y="968.85" width="23.69" height="17.3" fill="#C4DAF7"/>
<rect x="690.93" y="968.85" width="23.69" height="17.3" fill="#BED3F0"/>
<rect x="714.31" y="968.85" width="47.08" height="17.3" fill="#C4DAF7"/>
<rect x="831.25" y="968.85" width="23.69" height="17.3" fill="#C4DAF7"/>
<rect x="878.03" y="968.85" width="23.69" height="17.3" fill="#C4DAF7"/>
<rect x="924.8" y="968.85" width="23.69" height="17.3" fill="#BED3F0"/>
<rect x="971.58" y="968.85" width="23.69" height="17.3" fill="#C4DAF7"/>
<rect x="994.96" y="968.85" width="47.08" height="17.3" fill="#BED3F0"/>
<rect x="1041.74" y="968.85" width="70.16" height="17.3" fill="#C4DAF7"/>
<rect x="363.5" y="985.85" width="748.4" height="17.3" fill="#CAE1FF"/>
<rect x="363.5" y="985.85" width="23.69" height="17.3" fill="#C4DAF7"/>
<rect x="503.83" y="985.85" width="23.69" height="17.3" fill="#C4DAF7"/>
<rect x="878.03" y="985.85" width="70.46" height="17.3" fill="#C4DAF7"/>
<rect x="971.58" y="985.85" width="23.69" height="17.3" fill="#C4DAF7"/>
<rect x="363.5" y="1002.85" width="748.4" height="17.3" fill="#C4DAF7"/>
<rect x="363.5" y="1002.85" width="23.69" height="17.3" fill="#B8CDE8"/>
<rect x="386.89" y="1002.85" width="23.69" height="17.3" fill="#A5B8D1"/>
<rect x="410.27" y="1002.85" width="47.08" height="17.3" fill="#B8CDE8"/>
<rect x="457.05" y="1002.85" width="23.69" height="17.3" fill="#93A4B9"/>
<rect x="503.83" y="1002.85" width="23.69" height="17.3" fill="#B1C6E0"/>
<rect x="527.21" y="1002.85" width="23.69" height="17.3" fill="#A5B8D1"/>
<rect x="550.6" y="1002.85" width="23.69" height="17.3" fill="#93A4B9"/>
<rect x="573.99" y="1002.85" width="23.69" height="17.3" fill="#B1C6E0"/>
<rect x="597.38" y="1002.85" width="23.69" height="17.3" fill="#BED3F0"/>
<rect x="690.93" y="1002.85" width="23.69" height="17.3" fill="#BED3F0"/>
<rect x="714.31" y="1002.85" width="23.69" height="17.3" fill="#B8CDE8"/>
<rect x="761.09" y="1002.85" width="47.08" height="17.3" fill="#B8CDE8"/>
<rect x="807.86" y="1002.85" width="23.69" height="17.3" fill="#BED3F0"/>
<rect x="831.25" y="1002.85" width="23.69" height="17.3" fill="#ABBFD8"/>
<rect x="854.64" y="1002.85" width="23.69" height="17.3" fill="#B8CDE8"/>
<rect x="878.03" y="1002.85" width="23.69" height="17.3" fill="#B1C6E0"/>
<rect x="901.41" y="1002.85" width="23.69" height="17.3" fill="#BED3F0"/>
<rect x="924.8" y="1002.85" width="47.08" height="17.3" fill="#ABBFD8"/>
<rect x="971.58" y="1002.85" width="23.69" height="17.3" fill="#B1C6E0"/>
<rect x="1065.12" y="1002.85" width="46.78" height="17.3" fill="#BED3F0"/>
<rect x="363.5" y="1019.85" width="748.4" height="17.3" fill="#A5B8D1"/>
<rect x="363.5" y="1019.85" width="23.69" height="17.3" fill="#808FA2"/>
<rect x="386.89" y="1019.85" width="23.69" height="17.3" fill="#8D9DB2"/>
<rect x="433.66" y="1019.85" width="23.69" height="17.3" fill="#9FB1C9"/>
<rect x="457.05" y="1019.85" width="23.69" height="17.3" fill="#B1C6E0"/>
<rect x="550.6" y="1019.85" width="23.69" height="17.3" fill="#8D9DB2"/>
<rect x="573.99" y="1019.85" width="23.69" height="17.3" fill="#9FB1C9"/>
<rect x="667.54" y="1019.85" width="23.69" height="17.3" fill="#ABBFD8"/>
<rect x="690.93" y="1019.85" width="23.69" height="17.3" fill="#99ABC1"/>
<rect x="737.7" y="1019.85" width="23.69" height="17.3" fill="#9FB1C9"/>
<rect x="831.25" y="1019.85" width="47.08" height="17.3" fill="#ABBFD8"/>
<rect x="878.03" y="1019.85" width="23.69" height="17.3" fill="#7A899A"/>
<rect x="901.41" y="1019.85" width="23.69" height="17.3" fill="#B1C6E0"/>
<rect x="924.8" y="1019.85" width="140.63" height="17.3" fill="#9FB1C9"/>
<rect x="1088.51" y="1019.85" width="23.39" height="17.3" fill="#9FB1C9"/>
<rect x="363.5" y="1036.84" width="748.4" height="17.3" fill="#CAE1FF"/>
<rect x="433.66" y="1036.84" width="23.69" height="17.3" fill="#C4DAF7"/>
<rect x="644.15" y="1036.84" width="70.46" height="17.3" fill="#C4DAF7"/>
<rect x="737.7" y="1036.84" width="23.69" height="17.3" fill="#C4DAF7"/>
<rect x="784.48" y="1036.84" width="23.69" height="17.3" fill="#C4DAF7"/>
<rect x="807.86" y="1036.84" width="23.69" height="17.3" fill="#BED3F0"/>
<rect x="831.25" y="1036.84" width="70.46" height="17.3" fill="#C4DAF7"/>
<rect x="924.8" y="1036.84" width="23.69" height="17.3" fill="#BED3F0"/>
<rect x="994.96" y="1036.84" width="116.94" height="17.3" fill="#C4DAF7"/>
<rect x="363.5" y="1053.84" width="748.4" height="17.3" fill="#BED3F0"/>
<rect x="363.5" y="1053.84" width="23.69" height="17.3" fill="#C4DAF7"/>
<rect x="386.89" y="1053.84" width="47.08" height="17.3" fill="#CAE1FF"/>
<rect x="457.05" y="1053.84" width="47.08" height="17.3" fill="#CAE1FF"/>
<rect x="503.83" y="1053.84" width="23.69" height="17.3" fill="#C4DAF7"/>
<rect x="527.21" y="1053.84" width="47.08" height="17.3" fill="#CAE1FF"/>
<rect x="573.99" y="1053.84" width="23.69" height="17.3" fill="#C4DAF7"/>
<rect x="597.38" y="1053.84" width="23.69" height="17.3" fill="#B8CDE8"/>
<rect x="667.54" y="1053.84" width="140.63" height="17.3" fill="#B8CDE8"/>
<rect x="878.03" y="1053.84" width="47.08" height="17.3" fill="#C4DAF7"/>
<rect x="1065.12" y="1053.84" width="46.78" height="17.3" fill="#B8CDE8"/>
<rect x="363.5" y="1070.84" width="748.4" height="17.3" fill="#B1C6E0"/>
<rect x="363.5" y="1070.84" width="47.08" height="17.3" fill="#C4DAF7"/>
<rect x="410.27" y="1070.84" width="23.69" height="17.3" fill="#BED3F0"/>
<rect x="433.66" y="1070.84" width="23.69" height="17.3" fill="#C4DAF7"/>
<rect x="480.44" y="1070.84" width="47.08" height="17.3" fill="#BED3F0"/>
<rect x="573.99" y="1070.84" width="23.69" height="17.3" fill="#C4DAF7"/>
<rect x="597.38" y="1070.84" width="23.69" height="17.3" fill="#8D9DB2"/>
<rect x="620.76" y="1070.84" width="70.46" height="17.3" fill="#93A4B9"/>
<rect x="690.93" y="1070.84" width="23.69" height="17.3" fill="#ABBFD8"/>
<rect x="714.31" y="1070.84" width="70.46" height="17.3" fill="#99ABC1"/>
<rect x="784.48" y="1070.84" width="117.24" height="17.3" fill="#A5B8D1"/>
<rect x="901.41" y="1070.84" width="23.69" height="17.3" fill="#ABBFD8"/>
<rect x="948.19" y="1070.84" width="23.69" height="17.3" fill="#9FB1C9"/>
<rect x="1041.74" y="1070.84" width="23.69" height="17.3" fill="#A5B8D1"/>
<rect x="1065.12" y="1070.84" width="46.78" height="17.3" fill="#9FB1C9"/>
<rect x="363.5" y="1087.84" width="748.4" height="17.3" fill="#CAE1FF"/>
<rect x="363.5" y="1087.84" width="47.08" height="17.3" fill="#C4DAF7"/>
<rect x="410.27" y="1087.84" width="23.69" height="17.3" fill="#BED3F0"/>
<rect x="433.66" y="1087.84" width="23.69" height="17.3" fill="#C4DAF7"/>
<rect x="457.05" y="1087.84" width="70.46" height="17.3" fill="#B8CDE8"/>
<rect x="527.21" y="1087.84" width="47.08" height="17.3" fill="#B1C6E0"/>
<rect x="573.99" y="1087.84" width="23.69" height="17.3" fill="#BED3F0"/>
<rect x="901.41" y="1087.84" width="23.69" height="17.3" fill="#BED3F0"/>
<rect x="948.19" y="1087.84" width="163.71" height="17.3" fill="#C4DAF7"/>
<rect x="363.5" y="1104.84" width="748.4" height="17.3" fill="#C4DAF7"/>
<rect x="363.5" y="1104.84" width="47.08" height="17.3" fill="#B8CDE8"/>
<rect x="410.27" y="1104.84" width="23.69" height="17.3" fill="#B1C6E0"/>
<rect x="433.66" y="1104.84" width="23.69" height="17.3" fill="#BED3F0"/>
<rect x="457.05" y="1104.84" width="47.08" height="17.3" fill="#ABBFD8"/>
<rect x="503.83" y="1104.84" width="23.69" height="17.3" fill="#B1C6E0"/>
<rect x="527.21" y="1104.84" width="47.08" height="17.3" fill="#ABBFD8"/>
<rect x="573.99" y="1104.84" width="23.69" height="17.3" fill="#B1C6E0"/>
<rect x="620.76" y="1104.84" width="47.08" height="17.3" fill="#CAE1FF"/>
<rect x="714.31" y="1104.84" width="23.69" height="17.3" fill="#BED3F0"/>
<rect x="784.48" y="1104.84" width="93.85" height="17.3" fill="#CAE1FF"/>
<rect x="901.41" y="1104.84" width="23.69" height="17.3" fill="#B8CDE8"/>
<rect x="924.8" y="1104.84" width="70.46" height="17.3" fill="#BED3F0"/>
<rect x="363.5" y="1121.84" width="748.4" height="17.3" fill="#B1C6E0"/>
<rect x="363.5" y="1121.84" width="47.08" height="17.3" fill="#ABBFD8"/>
<rect x="410.27" y="1121.84" width="47.08" height="17.3" fill="#B8CDE8"/>
<rect x="480.44" y="1121.84" width="23.69" height="17.3" fill="#ABBFD8"/>
<rect x="527.21" y="1121.84" width="23.69" height="17.3" fill="#A5B8D1"/>
<rect x="573.99" y="1121.84" width="23.69" height="17.3" fill="#ABBFD8"/>
<rect x="597.38" y="1121.84" width="23.69" height="17.3" fill="#C4DAF7"/>
<rect x="620.76" y="1121.84" width="23.69" height="17.3" fill="#B8CDE8"/>
<rect x="690.93" y="1121.84" width="23.69" height="17.3" fill="#A5B8D1"/>
<rect x="737.7" y="1121.84" width="23.69" height="17.3" fill="#B8CDE8"/>
<rect x="807.86" y="1121.84" width="23.69" height="17.3" fill="#ABBFD8"/>
<rect x="878.03" y="1121.84" width="23.69" height="17.3" fill="#9FB1C9"/>
<rect x="971.58" y="1121.84" width="23.69" height="17.3" fill="#ABBFD8"/>
<rect x="994.96" y="1121.84" width="47.08" height="17.3" fill="#A5B8D1"/>
<rect x="1041.74" y="1121.84" width="47.08" height="17.3" fill="#ABBFD8"/>
<rect x="363.5" y="1138.84" width="748.4" height="17.3" fill="#B8CDE8"/>
<rect x="363.5" y="1138.84" width="23.69" height="17.3" fill="#BED3F0"/>
<rect x="433.66" y="1138.84" width="23.69" height="17.3" fill="#BED3F0"/>
<rect x="480.44" y="1138.84" width="23.69" height="17.3" fill="#B1C6E0"/>
<rect x="527.21" y="1138.84" width="23.69" height="17.3" fill="#B1C6E0"/>
<rect x="550.6" y="1138.84" width="23.69" height="17.3" fill="#BED3F0"/>
<rect x="597.38" y="1138.84" width="47.08" height="17.3" fill="#C4DAF7"/>
<rect x="644.15" y="1138.84" width="47.08" height="17.3" fill="#BED3F0"/>
<rect x="690.93" y="1138.84" width="23.69" height="17.3" fill="#ABBFD8"/>
<rect x="714.31" y="1138.84" width="23.69" height="17.3" fill="#BED3F0"/>
<rect x="737.7" y="1138.84" width="47.08" height="17.3" fill="#C4DAF7"/>
<rect x="784.48" y="1138.84" width="23.69" height="17.3" fill="#BED3F0"/>
<rect x="948.19" y="1138.84" width="23.69" height="17.3" fill="#BED3F0"/>
<rect x="971.58" y="1138.84" width="23.69" height="17.3" fill="#B1C6E0"/>
<rect x="994.96" y="1138.84" width="47.08" height="17.3" fill="#ABBFD8"/>
<rect x="363.5" y="1155.84" width="748.4" height="17.3" fill="#C4DAF7"/>
<rect x="410.27" y="1155.84" width="23.69" height="17.3" fill="#B8CDE8"/>
<rect x="433.66" y="1155.84" width="23.69" height="17.3" fill="#BED3F0"/>
<rect x="457.05" y="1155.84" width="23.69" height="17.3" fill="#B8CDE8"/>
<rect x="480.44" y="1155.84" width="23.69" height="17.3" fill="#B1C6E0"/>
<rect x="503.83" y="1155.84" width="23.69" height="17.3" fill="#BED3F0"/>
<rect x="527.21" y="1155.84" width="23.69" height="17.3" fill="#B8CDE8"/>
<rect x="573.99" y="1155.84" width="23.69" height="17.3" fill="#B8CDE8"/>
<rect x="620.76" y="1155.84" width="47.08" height="17.3" fill="#CAE1FF"/>
<rect x="784.48" y="1155.84" width="117.24" height="17.3" fill="#CAE1FF"/>
<rect x="901.41" y="1155.84" width="23.69" height="17.3" fill="#BED3F0"/>
<rect x="971.58" y="1155.84" width="93.85" height="17.3" fill="#BED3F0"/>
<rect x="363.5" y="1172.84" width="748.4" height="17.3" fill="#C4DAF7"/>
<rect x="410.27" y="1172.84" width="23.69" height="17.3" fill="#BED3F0"/>
<rect x="433.66" y="1172.84" width="23.69" height="17.3" fill="#CAE1FF"/>
<rect x="457.05" y="1172.84" width="23.69" height="17.3" fill="#BED3F0"/>
<rect x="480.44" y="1172.84" width="23.69" height="17.3" fill="#B8CDE8"/>
<rect x="503.83" y="1172.84" width="23.69" height="17.3" fill="#BED3F0"/>
<rect x="527.21" y="1172.84" width="23.69" height="17.3" fill="#B8CDE8"/>
<rect x="573.99" y="1172.84" width="23.69" height="17.3" fill="#BED3F0"/>
<rect x="597.38" y="1172.84" width="70.46" height="17.3" fill="#CAE1FF"/>
<rect x="784.48" y="1172.84" width="117.24" height="17.3" fill="#CAE1FF"/>
<rect x="924.8" y="1172.84" width="47.08" height="17.3" fill="#CAE1FF"/>
<rect x="363.5" y="1189.83" width="748.4" height="17.3" fill="#B8CDE8"/>
<rect x="363.5" y="1189.83" width="70.46" height="17.3" fill="#ABBFD8"/>
<rect x="433.66" y="1189.83" width="70.46" height="17.3" fill="#A5B8D1"/>
<rect x="503.83" y="1189.83" width="23.69" height="17.3" fill="#B1C6E0"/>
<rect x="527.21" y="1189.83" width="70.46" height="17.3" fill="#ABBFD8"/>
<rect x="597.38" y="1189.83" width="47.08" height="17.3" fill="#BED3F0"/>
<rect x="737.7" y="1189.83" width="23.69" height="17.3" fill="#BED3F0"/>
<rect x="784.48" y="1189.83" width="70.46" height="17.3" fill="#BED3F0"/>
<rect x="878.03" y="1189.83" width="47.08" height="17.3" fill="#B1C6E0"/>
<rect x="924.8" y="1189.83" width="47.08" height="17.3" fill="#BED3F0"/>
<rect x="1041.74" y="1189.83" width="23.69" height="17.3" fill="#BED3F0"/>
<rect x="363.5" y="1206.83" width="748.4" height="17.3" fill="#BED3F0"/>
<rect x="363.5" y="1206.83" width="23.69" height="17.3" fill="#99ABC1"/>
<rect x="386.89" y="1206.83" width="23.69" height="17.3" fill="#8796AA"/>
<rect x="410.27" y="1206.83" width="23.69" height="17.3" fill="#99ABC1"/>
<rect x="433.66" y="1206.83" width="23.69" height="17.3" fill="#A5B8D1"/>
<rect x="457.05" y="1206.83" width="23.69" height="17.3" fill="#99ABC1"/>
<rect x="480.44" y="1206.83" width="23.69" height="17.3" fill="#A5B8D1"/>
<rect x="503.83" y="1206.83" width="23.69" height="17.3" fill="#8D9DB2"/>
<rect x="527.21" y="1206.83" width="23.69" height="17.3" fill="#A5B8D1"/>
<rect x="550.6" y="1206.83" width="23.69" height="17.3" fill="#8D9DB2"/>
<rect x="573.99" y="1206.83" width="23.69" height="17.3" fill="#9FB1C9"/>
<rect x="597.38" y="1206.83" width="93.85" height="17.3" fill="#C4DAF7"/>
<rect x="690.93" y="1206.83" width="23.69" height="17.3" fill="#B8CDE8"/>
<rect x="761.09" y="1206.83" width="23.69" height="17.3" fill="#B8CDE8"/>
<rect x="807.86" y="1206.83" width="47.08" height="17.3" fill="#C4DAF7"/>
<rect x="878.03" y="1206.83" width="23.69" height="17.3" fill="#B1C6E0"/>
<rect x="901.41" y="1206.83" width="23.69" height="17.3" fill="#ABBFD8"/>
<rect x="924.8" y="1206.83" width="23.69" height="17.3" fill="#C4DAF7"/>
<rect x="971.58" y="1206.83" width="23.69" height="17.3" fill="#B8CDE8"/>
<rect x="363.5" y="1223.83" width="748.4" height="17.3" fill="#BED3F0"/>
<rect x="363.5" y="1223.83" width="23.69" height="17.3" fill="#C4DAF7"/>
<rect x="410.27" y="1223.83" width="23.69" height="17.3" fill="#C4DAF7"/>
<rect x="457.05" y="1223.83" width="23.69" height="17.3" fill="#ABBFD8"/>
<rect x="480.44" y="1223.83" width="23.69" height="17.3" fill="#C4DAF7"/>
<rect x="527.21" y="1223.83" width="47.08" height="17.3" fill="#B1C6E0"/>
<rect x="597.38" y="1223.83" width="23.69" height="17.3" fill="#C4DAF7"/>
<rect x="620.76" y="1223.83" width="23.69" height="17.3" fill="#CAE1FF"/>
<rect x="644.15" y="1223.83" width="23.69" height="17.3" fill="#C4DAF7"/>
<rect x="690.93" y="1223.83" width="70.46" height="17.3" fill="#C4DAF7"/>
<rect x="854.64" y="1223.83" width="23.69" height="17.3" fill="#B8CDE8"/>
<rect x="901.41" y="1223.83" width="23.69" height="17.3" fill="#C4DAF7"/>
<rect x="924.8" y="1223.83" width="23.69" height="17.3" fill="#CAE1FF"/>
<rect x="948.19" y="1223.83" width="23.69" height="17.3" fill="#B1C6E0"/>
<rect x="971.58" y="1223.83" width="70.46" height="17.3" fill="#C4DAF7"/>
<rect x="363.5" y="1240.83" width="748.4" height="17.3" fill="#A5B8D1"/>
<rect x="363.5" y="1240.83" width="23.69" height="17.3" fill="#9FB1C9"/>
<rect x="386.89" y="1240.83" width="23.69" height="17.3" fill="#99ABC1"/>
<rect x="410.27" y="1240.83" width="23.69" height="17.3" fill="#93A4B9"/>
<rect x="433.66" y="1240.83" width="23.69" height="17.3" fill="#9FB1C9"/>
<rect x="457.05" y="1240.83" width="93.85" height="17.3" fill="#99ABC1"/>
<rect x="550.6" y="1240.83" width="23.69" height="17.3" fill="#93A4B9"/>
<rect x="573.99" y="1240.83" width="23.69" height="17.3" fill="#99ABC1"/>
<rect x="597.38" y="1240.83" width="23.69" height="17.3" fill="#9FB1C9"/>
<rect x="620.76" y="1240.83" width="70.46" height="17.3" fill="#ABBFD8"/>
<rect x="737.7" y="1240.83" width="70.46" height="17.3" fill="#ABBFD8"/>
<rect x="807.86" y="1240.83" width="23.69" height="17.3" fill="#B1C6E0"/>
<rect x="854.64" y="1240.83" width="23.69" height="17.3" fill="#ABBFD8"/>
<rect x="901.41" y="1240.83" width="47.08" height="17.3" fill="#99ABC1"/>
<rect x="948.19" y="1240.83" width="23.69" height="17.3" fill="#B1C6E0"/>
<rect x="1065.12" y="1240.83" width="23.69" height="17.3" fill="#ABBFD8"/>
<rect x="363.5" y="1257.83" width="748.4" height="17.3" fill="#C4DAF7"/>
<rect x="363.5" y="1257.83" width="23.69" height="17.3" fill="#BED3F0"/>
<rect x="410.27" y="1257.83" width="23.69" height="17.3" fill="#B8CDE8"/>
<rect x="433.66" y="1257.83" width="23.69" height="17.3" fill="#BED3F0"/>
<rect x="457.05" y="1257.83" width="47.08" height="17.3" fill="#B8CDE8"/>
<rect x="503.83" y="1257.83" width="23.69" height="17.3" fill="#BED3F0"/>
<rect x="527.21" y="1257.83" width="70.46" height="17.3" fill="#B8CDE8"/>
<rect x="597.38" y="1257.83" width="70.46" height="17.3" fill="#CAE1FF"/>
<rect x="784.48" y="1257.83" width="93.85" height="17.3" fill="#CAE1FF"/>
<rect x="901.41" y="1257.83" width="47.08" height="17.3" fill="#BED3F0"/>
<rect x="971.58" y="1257.83" width="70.46" height="17.3" fill="#BED3F0"/>
<rect x="363.5" y="1274.83" width="748.4" height="17.3" fill="#BED3F0"/>
<rect x="433.66" y="1274.83" width="23.69" height="17.3" fill="#B8CDE8"/>
<rect x="457.05" y="1274.83" width="23.69" height="17.3" fill="#C4DAF7"/>
<rect x="597.38" y="1274.83" width="70.46" height="17.3" fill="#C4DAF7"/>
<rect x="690.93" y="1274.83" width="23.69" height="17.3" fill="#C4DAF7"/>
<rect x="807.86" y="1274.83" width="93.85" height="17.3" fill="#B8CDE8"/>
<rect x="924.8" y="1274.83" width="47.08" height="17.3" fill="#B8CDE8"/>
<rect x="363.5" y="1291.83" width="748.4" height="17.3" fill="#CAE1FF"/>
<rect x="433.66" y="1291.83" width="23.69" height="17.3" fill="#BED3F0"/>
<rect x="527.21" y="1291.83" width="23.69" height="17.3" fill="#C4DAF7"/>
<rect x="667.54" y="1291.83" width="23.69" height="17.3" fill="#BED3F0"/>
<rect x="690.93" y="1291.83" width="23.69" height="17.3" fill="#C4DAF7"/>
<rect x="714.31" y="1291.83" width="93.85" height="17.3" fill="#BED3F0"/>
<rect x="807.86" y="1291.83" width="70.46" height="17.3" fill="#B8CDE8"/>
<rect x="878.03" y="1291.83" width="23.69" height="17.3" fill="#BED3F0"/>
<rect x="901.41" y="1291.83" width="47.08" height="17.3" fill="#C4DAF7"/>
<rect x="948.19" y="1291.83" width="23.69" height="17.3" fill="#BED3F0"/>
<rect x="994.96" y="1291.83" width="116.94" height="17.3" fill="#C4DAF7"/>
<rect x="363.5" y="1308.83" width="748.4" height="17.3" fill="#C4DAF7"/>
<rect x="410.27" y="1308.83" width="23.69" height="17.3" fill="#BED3F0"/>
<rect x="433.66" y="1308.83" width="23.69" height="17.3" fill="#CAE1FF"/>
<rect x="457.05" y="1308.83" width="23.69" height="17.3" fill="#BED3F0"/>
<rect x="480.44" y="1308.83" width="23.69" height="17.3" fill="#B8CDE8"/>
<rect x="503.83" y="1308.83" width="47.08" height="17.3" fill="#BED3F0"/>
<rect x="573.99" y="1308.83" width="23.69" height="17.3" fill="#BED3F0"/>
<rect x="597.38" y="1308.83" width="47.08" height="17.3" fill="#CAE1FF"/>
<rect x="690.93" y="1308.83" width="70.46" height="17.3" fill="#CAE1FF"/>
<rect x="784.48" y="1308.83" width="47.08" height="17.3" fill="#BED3F0"/>
<rect x="854.64" y="1308.83" width="23.69" height="17.3" fill="#BED3F0"/>
<rect x="901.41" y="1308.83" width="23.69" height="17.3" fill="#BED3F0"/>
<rect x="924.8" y="1308.83" width="23.69" height="17.3" fill="#CAE1FF"/>
<rect x="994.96" y="1308.83" width="47.08" height="17.3" fill="#CAE1FF"/>
<rect x="1065.12" y="1308.83" width="23.69" height="17.3" fill="#CAE1FF"/>
<rect x="363.5" y="1325.82" width="748.4" height="17.3" fill="#CAE1FF"/>
<rect x="363.5" y="1325.82" width="23.69" height="17.3" fill="#C4DAF7"/>
<rect x="527.21" y="1325.82" width="23.69" height="17.3" fill="#C4DAF7"/>
<rect x="597.38" y="1325.82" width="70.46" height="17.3" fill="#C4DAF7"/>
<rect x="667.54" y="1325.82" width="47.08" height="17.3" fill="#BED3F0"/>
<rect x="714.31" y="1325.82" width="70.46" height="17.3" fill="#C4DAF7"/>
<rect x="784.48" y="1325.82" width="23.69" height="17.3" fill="#B8CDE8"/>
<rect x="807.86" y="1325.82" width="23.69" height="17.3" fill="#BED3F0"/>
<rect x="831.25" y="1325.82" width="47.08" height="17.3" fill="#B1C6E0"/>
<rect x="878.03" y="1325.82" width="23.69" height="17.3" fill="#BED3F0"/>
<rect x="948.19" y="1325.82" width="23.69" height="17.3" fill="#C4DAF7"/>
<rect x="994.96" y="1325.82" width="93.85" height="17.3" fill="#BED3F0"/>
<rect x="1088.51" y="1325.82" width="23.39" height="17.3" fill="#C4DAF7"/>
<rect x="363.5" y="1342.82" width="748.4" height="17.3" fill="#CAE1FF"/>
<rect x="690.93" y="1342.82" width="23.69" height="17.3" fill="#C4DAF7"/>
<rect x="994.96" y="1342.82" width="93.85" height="17.3" fill="#C4DAF7"/>
<rect x="363.5" y="1359.82" width="748.4" height="17.3" fill="#CAE1FF"/>
<rect x="667.54" y="1359.82" width="47.08" height="17.3" fill="#C4DAF7"/>
<rect x="994.96" y="1359.82" width="47.08" height="17.3" fill="#C4DAF7"/>
<rect x="363.5" y="1376.82" width="748.4" height="17.3" fill="#6E7B8B"/>
<rect x="363.5" y="1376.82" width="47.08" height="17.3" fill="#7A899A"/>
<rect x="410.27" y="1376.82" width="23.69" height="17.3" fill="#748293"/>
<rect x="433.66" y="1376.82" width="23.69" height="17.3" fill="#7A899A"/>
<rect x="457.05" y="1376.82" width="47.08" height="17.3" fill="#8796AA"/>
<rect x="503.83" y="1376.82" width="47.08" height="17.3" fill="#808FA2"/>
<rect x="550.6" y="1376.82" width="23.69" height="17.3" fill="#8796AA"/>
<rect x="573.99" y="1376.82" width="23.69" height="17.3" fill="#808FA2"/>
<rect x="948.19" y="1376.82" width="23.69" height="17.3" fill="#748293"/>
<rect x="971.58" y="1376.82" width="23.69" height="17.3" fill="#7A899A"/>
<rect x="363.5" y="1393.82" width="748.4" height="17.3" fill="#CAE1FF"/>
<rect x="363.5" y="1410.82" width="748.4" height="17.3" fill="#CAE1FF"/>
<rect x="410.27" y="1410.82" width="23.69" height="17.3" fill="#C4DAF7"/>
<rect x="433.66" y="1410.82" width="23.69" height="17.3" fill="#BED3F0"/>
<rect x="457.05" y="1410.82" width="23.69" height="17.3" fill="#B1C6E0"/>
<rect x="527.21" y="1410.82" width="23.69" height="17.3" fill="#C4DAF7"/>
<rect x="550.6" y="1410.82" width="23.69" height="17.3" fill="#BED3F0"/>
<rect x="597.38" y="1410.82" width="70.46" height="17.3" fill="#6E7B8B"/>
<rect x="667.54" y="1410.82" width="47.08" height="17.3" fill="#808FA2"/>
<rect x="714.31" y="1410.82" width="23.69" height="17.3" fill="#8D9DB2"/>
<rect x="737.7" y="1410.82" width="23.69" height="17.3" fill="#8796AA"/>
<rect x="761.09" y="1410.82" width="23.69" height="17.3" fill="#7A899A"/>
<rect x="784.48" y="1410.82" width="23.69" height="17.3" fill="#99ABC1"/>
<rect x="807.86" y="1410.82" width="23.69" height="17.3" fill="#93A4B9"/>
<rect x="831.25" y="1410.82" width="23.69" height="17.3" fill="#99ABC1"/>
<rect x="854.64" y="1410.82" width="70.46" height="17.3" fill="#9FB1C9"/>
<rect x="924.8" y="1410.82" width="23.69" height="17.3" fill="#ABBFD8"/>
<rect x="948.19" y="1410.82" width="23.69" height="17.3" fill="#9FB1C9"/>
<rect x="971.58" y="1410.82" width="23.69" height="17.3" fill="#A5B8D1"/>
<rect x="994.96" y="1410.82" width="23.69" height="17.3" fill="#99ABC1"/>
<rect x="1018.35" y="1410.82" width="23.69" height="17.3" fill="#93A4B9"/>
<rect x="1041.74" y="1410.82" width="23.69" height="17.3" fill="#A5B8D1"/>
<rect x="1065.12" y="1410.82" width="46.78" height="17.3" fill="#99ABC1"/>
<rect x="363.5" y="1427.82" width="748.4" height="17.3" fill="#6E7B8B"/>
<rect x="363.5" y="1427.82" width="23.69" height="17.3" fill="#C4DAF7"/>
<rect x="386.89" y="1427.82" width="23.69" height="17.3" fill="#CAE1FF"/>
<rect x="410.27" y="1427.82" width="47.08" height="17.3" fill="#C4DAF7"/>
<rect x="457.05" y="1427.82" width="23.69" height="17.3" fill="#BED3F0"/>
<rect x="480.44" y="1427.82" width="47.08" height="17.3" fill="#CAE1FF"/>
<rect x="527.21" y="1427.82" width="23.69" height="17.3" fill="#C4DAF7"/>
<rect x="550.6" y="1427.82" width="23.69" height="17.3" fill="#BED3F0"/>
<rect x="573.99" y="1427.82" width="23.69" height="17.3" fill="#CAE1FF"/>
<rect x="784.48" y="1427.82" width="47.08" height="17.3" fill="#99ABC1"/>
<rect x="831.25" y="1427.82" width="23.69" height="17.3" fill="#9FB1C9"/>
<rect x="854.64" y="1427.82" width="23.69" height="17.3" fill="#A5B8D1"/>
<rect x="878.03" y="1427.82" width="23.69" height="17.3" fill="#9FB1C9"/>
<rect x="924.8" y="1427.82" width="23.69" height="17.3" fill="#99ABC1"/>
<rect x="948.19" y="1427.82" width="23.69" height="17.3" fill="#9FB1C9"/>
<rect x="971.58" y="1427.82" width="23.69" height="17.3" fill="#7A899A"/>
<rect x="994.96" y="1427.82" width="23.69" height="17.3" fill="#808FA2"/>
<rect x="1018.35" y="1427.82" width="23.69" height="17.3" fill="#748293"/>
<rect x="1041.74" y="1427.82" width="23.69" height="17.3" fill="#A5B8D1"/>
<rect x="1065.12" y="1427.82" width="46.78" height="17.3" fill="#99ABC1"/>
<rect x="363.5" y="1444.82" width="748.4" height="17.3" fill="#B8CDE8"/>
<rect x="363.5" y="1444.82" width="23.69" height="17.3" fill="#BED3F0"/>
<rect x="410.27" y="1444.82" width="23.69" height="17.3" fill="#BED3F0"/>
<rect x="457.05" y="1444.82" width="23.69" height="17.3" fill="#CAE1FF"/>
<rect x="480.44" y="1444.82" width="117.24" height="17.3" fill="#C4DAF7"/>
<rect x="597.38" y="1444.82" width="23.69" height="17.3" fill="#BED3F0"/>
<rect x="667.54" y="1444.82" width="47.08" height="17.3" fill="#B1C6E0"/>
<rect x="761.09" y="1444.82" width="23.69" height="17.3" fill="#BED3F0"/>
<rect x="784.48" y="1444.82" width="47.08" height="17.3" fill="#9FB1C9"/>
<rect x="831.25" y="1444.82" width="47.08" height="17.3" fill="#ABBFD8"/>
<rect x="878.03" y="1444.82" width="23.69" height="17.3" fill="#A5B8D1"/>
<rect x="901.41" y="1444.82" width="23.69" height="17.3" fill="#C4DAF7"/>
<rect x="924.8" y="1444.82" width="23.69" height="17.3" fill="#A5B8D1"/>
<rect x="971.58" y="1444.82" width="23.69" height="17.3" fill="#C4DAF7"/>
<rect x="994.96" y="1444.82" width="47.08" height="17.3" fill="#B1C6E0"/>
<rect x="1041.74" y="1444.82" width="23.69" height="17.3" fill="#A5B8D1"/>
<rect x="1065.12" y="1444.82" width="46.78" height="17.3" fill="#ABBFD8"/>
<rect x="363.5" y="1461.82" width="748.4" height="17.3" fill="#6E7B8B"/>
<rect x="363.5" y="1478.81" width="748.4" height="17.3" fill="#6E7B8B"/>
<rect x="363.5" y="1495.81" width="748.4" height="17.3" fill="#6E7B8B"/>
<rect x="363.5" y="1495.81" width="23.69" height="17.3" fill="#808FA2"/>
<rect x="386.89" y="1495.81" width="23.69" height="17.3" fill="#7A899A"/>
<rect x="480.44" y="1495.81" width="47.08" height="17.3" fill="#748293"/>
<rect x="597.38" y="1495.81" width="23.69" height="17.3" fill="#7A899A"/>
<rect x="620.76" y="1495.81" width="23.69" height="17.3" fill="#8796AA"/>
<rect x="690.93" y="1495.81" width="23.69" height="17.3" fill="#7A899A"/>
<rect x="901.41" y="1495.81" width="23.69" height="17.3" fill="#8796AA"/>
<rect x="924.8" y="1495.81" width="23.69" height="17.3" fill="#748293"/>
<rect x="363.5" y="1512.81" width="748.4" height="17.3" fill="#A5B8D1"/>
<rect x="410.27" y="1512.81" width="70.46" height="17.3" fill="#9FB1C9"/>
<rect x="480.44" y="1512.81" width="23.69" height="17.3" fill="#99ABC1"/>
<rect x="527.21" y="1512.81" width="93.85" height="17.3" fill="#9FB1C9"/>
<rect x="620.76" y="1512.81" width="23.69" height="17.3" fill="#ABBFD8"/>
<rect x="667.54" y="1512.81" width="23.69" height="17.3" fill="#9FB1C9"/>
<rect x="690.93" y="1512.81" width="23.69" height="17.3" fill="#ABBFD8"/>
<rect x="784.48" y="1512.81" width="23.69" height="17.3" fill="#9FB1C9"/>
<rect x="854.64" y="1512.81" width="47.08" height="17.3" fill="#9FB1C9"/>
<rect x="924.8" y="1512.81" width="23.69" height="17.3" fill="#93A4B9"/>
<rect x="1041.74" y="1512.81" width="23.69" height="17.3" fill="#9FB1C9"/>
<rect x="1088.51" y="1512.81" width="23.39" height="17.3" fill="#9FB1C9"/>
<rect x="363.5" y="1529.81" width="748.4" height="17.3" fill="#6E7B8B"/>
<rect x="363.5" y="1546.81" width="748.4" height="17.3" fill="#6E7B8B"/>
<rect x="363.5" y="1563.81" width="748.4" height="17.3" fill="#6E7B8B"/>
<rect x="386.89" y="1563.81" width="47.08" height="17.3" fill="#748293"/>
<rect x="457.05" y="1563.81" width="23.69" height="17.3" fill="#8796AA"/>
<rect x="480.44" y="1563.81" width="93.85" height="17.3" fill="#7A899A"/>
<rect x="573.99" y="1563.81" width="23.69" height="17.3" fill="#748293"/>
<rect x="597.38" y="1563.81" width="23.69" height="17.3" fill="#8796AA"/>
<rect x="620.76" y="1563.81" width="47.08" height="17.3" fill="#808FA2"/>
<rect x="667.54" y="1563.81" width="23.69" height="17.3" fill="#7A899A"/>
<rect x="690.93" y="1563.81" width="23.69" height="17.3" fill="#8796AA"/>
<rect x="714.31" y="1563.81" width="47.08" height="17.3" fill="#7A899A"/>
<rect x="761.09" y="1563.81" width="23.69" height="17.3" fill="#808FA2"/>
<rect x="901.41" y="1563.81" width="23.69" height="17.3" fill="#7A899A"/>
<rect x="948.19" y="1563.81" width="23.69" height="17.3" fill="#808FA2"/>
<rect x="971.58" y="1563.81" width="70.46" height="17.3" fill="#7A899A"/>
<rect x="363.5" y="1580.81" width="748.4" height="17.3" fill="#C4DAF7"/>
<rect x="363.5" y="1580.81" width="93.85" height="17.3" fill="#BED3F0"/>
<rect x="457.05" y="1580.81" width="47.08" height="17.3" fill="#CAE1FF"/>
<rect x="527.21" y="1580.81" width="23.69" height="17.3" fill="#CAE1FF"/>
<rect x="667.54" y="1580.81" width="93.85" height="17.3" fill="#CAE1FF"/>
<rect x="971.58" y="1580.81" width="47.08" height="17.3" fill="#CAE1FF"/>
<rect x="363.5" y="1597.81" width="748.4" height="17.3" fill="#6E7B8B"/>
<rect x="363.5" y="1614.81" width="748.4" height="17.3" fill="#6E7B8B"/>
<rect x="363.5" y="1631.8" width="748.4" height="17.3" fill="#808FA2"/>
<rect x="386.89" y="1631.8" width="47.08" height="17.3" fill="#8796AA"/>
<rect x="457.05" y="1631.8" width="23.69" height="17.3" fill="#8D9DB2"/>
<rect x="503.83" y="1631.8" width="47.08" height="17.3" fill="#8796AA"/>
<rect x="550.6" y="1631.8" width="23.69" height="17.3" fill="#93A4B9"/>
<rect x="573.99" y="1631.8" width="47.08" height="17.3" fill="#8796AA"/>
<rect x="620.76" y="1631.8" width="70.46" height="17.3" fill="#8D9DB2"/>
<rect x="761.09" y="1631.8" width="23.69" height="17.3" fill="#8796AA"/>
<rect x="784.48" y="1631.8" width="23.69" height="17.3" fill="#7A899A"/>
<rect x="831.25" y="1631.8" width="47.08" height="17.3" fill="#7A899A"/>
<rect x="878.03" y="1631.8" width="23.69" height="17.3" fill="#8796AA"/>
<rect x="901.41" y="1631.8" width="23.69" height="17.3" fill="#7A899A"/>
<rect x="924.8" y="1631.8" width="23.69" height="17.3" fill="#748293"/>
<rect x="971.58" y="1631.8" width="70.46" height="17.3" fill="#7A899A"/>
<rect x="363.5" y="1648.8" width="748.4" height="17.3" fill="#6E7B8B"/>
<rect x="363.5" y="1665.8" width="748.4" height="17.3" fill="#B8CDE8"/>
<rect x="363.5" y="1665.8" width="23.69" height="17.3" fill="#9FB1C9"/>
<rect x="386.89" y="1665.8" width="47.08" height="17.3" fill="#6E7B8B"/>
<rect x="433.66" y="1665.8" width="23.69" height="17.3" fill="#7A899A"/>
<rect x="457.05" y="1665.8" width="47.08" height="17.3" fill="#6E7B8B"/>
<rect x="503.83" y="1665.8" width="23.69" height="17.3" fill="#7A899A"/>
<rect x="527.21" y="1665.8" width="47.08" height="17.3" fill="#6E7B8B"/>
<rect x="573.99" y="1665.8" width="23.69" height="17.3" fill="#8796AA"/>
<rect x="597.38" y="1665.8" width="23.69" height="17.3" fill="#A5B8D1"/>
<rect x="620.76" y="1665.8" width="23.69" height="17.3" fill="#BED3F0"/>
<rect x="690.93" y="1665.8" width="70.46" height="17.3" fill="#B1C6E0"/>
<rect x="761.09" y="1665.8" width="23.69" height="17.3" fill="#ABBFD8"/>
<rect x="878.03" y="1665.8" width="23.69" height="17.3" fill="#B1C6E0"/>
<rect x="901.41" y="1665.8" width="23.69" height="17.3" fill="#7A899A"/>
<rect x="924.8" y="1665.8" width="23.69" height="17.3" fill="#ABBFD8"/>
<rect x="948.19" y="1665.8" width="23.69" height="17.3" fill="#A5B8D1"/>
<rect x="971.58" y="1665.8" width="23.69" height="17.3" fill="#99ABC1"/>
<rect x="1041.74" y="1665.8" width="70.16" height="17.3" fill="#B1C6E0"/>
<rect x="363.5" y="1682.8" width="748.4" height="17" fill="#A5B8D1"/>
<rect x="386.89" y="1682.8" width="23.69" height="17" fill="#9FB1C9"/>
<rect x="433.66" y="1682.8" width="23.69" height="17" fill="#ABBFD8"/>
<rect x="457.05" y="1682.8" width="47.08" height="17" fill="#9FB1C9"/>
<rect x="527.21" y="1682.8" width="23.69" height="17" fill="#9FB1C9"/>
<rect x="597.38" y="1682.8" width="23.69" height="17" fill="#99ABC1"/>
<rect x="620.76" y="1682.8" width="23.69" height="17" fill="#8D9DB2"/>
<rect x="644.15" y="1682.8" width="47.08" height="17" fill="#93A4B9"/>
<rect x="690.93" y="1682.8" width="47.08" height="17" fill="#99ABC1"/>
<rect x="737.7" y="1682.8" width="23.69" height="17" fill="#93A4B9"/>
<rect x="761.09" y="1682.8" width="23.69" height="17" fill="#99ABC1"/>
<rect x="901.41" y="1682.8" width="23.69" height="17" fill="#99ABC1"/>
<rect x="924.8" y="1682.8" width="23.69" height="17" fill="#93A4B9"/>
<rect x="948.19" y="1682.8" width="47.08" height="17" fill="#9FB1C9"/>
<rect x="994.96" y="1682.8" width="47.08" height="17" fill="#99ABC1"/>
<rect x="1041.74" y="1682.8" width="70.16" height="17" fill="#9FB1C9"/>
</g>
<text class="r" transform="translate(357.2 217.9)" dx="0 0 0 0 0 .21 .21 0 0 0 0 0 -.77 0 0 0 0 0 0 0 0 0 .23">Oligo– and Polysaccharide Biosynthesis</text>
<text class="r" transform="translate(357.2 234.9)" dx="0 -1.07 0 .23 0 0 0 0 0 0 0 0 0 .21 .21 0 0 0 0 0 -.77 0 0 0 0 0 0 0 0 0 .23 0 0 0 0 0 0 -.15 -.15">Various Oligo– and Polysaccharide Degradation</text>
<text class="r" transform="translate(357.2 251.9)" dx="0 0 0 0 0 0 0 0 0 -.15 -.15">Cutin Degradation</text>
<text class="r" transform="translate(357.2 268.9)" dx="0 -.77 0 0 0 0 0 0 0 0 -.15 -.15">Pectin Degradation</text>
<text class="r" transform="translate(357.2 285.89)" dx="0 0 0 0 0 0 0 0 0 0 -.15 -.15">Lignin Degradation</text>
<text class="r" transform="translate(357.2 302.89)" dx="0 0 0 0 0 0 0 0 0 -.15 -.15">Xylan Degradation</text>
<text class="r" transform="translate(357.2 319.89)" dx="0 0 0 0 0 0 0 0 0 0 0 0 0 -.15 -.15">Cellulose Degradation</text>
<text class="r" transform="translate(357.2 336.89)" dx="0 0 0 0 -.46 0 0 0 0 0 -.23 -.38 0 0 0 0 0 0 -.15 -.15">Sulfoquinovose Degradation</text>
<text class="r" transform="translate(357.2 353.89)" dx="0 0 0 0 0 0 -.15 0 0 0 0 0 -.15 -.15">Furfural Degradation</text>
<text class="r" transform="translate(357.2 370.89)" dx="0 0 0 0 0 0 0 0 0 0 -.15 -.15">Chitin Degradation</text>
<text class="r" transform="translate(357.2 387.89)" dx="0 0 0 0 0 0 0 0 0 0 0 .23 0 0 0 0 0 0 -.15 -.15">Monosaccharide Degradation</text>
<text class="r" transform="translate(357.2 404.89)" dx="0 0 0 0 0 0 0 0 0 0 0 0 0 0 0 0 0 0 0 0 0 0 0 0 0 0 0 0 0 0 0 0 -.15 -.15">Sugar Alcohol and Sugar Acid Degradation</text>
<text class="r" transform="translate(357.2 421.89)">Amino and Nucleotide Sugar Metabolism</text>
<text class="r" transform="translate(357.2 438.88)" dx="0 -.69 .23 0 0 0 0 0 0 0 0 0 0 0 0 0 0 0 -.15 -.15">Fructoselysine Degradation</text>
<text class="r" transform="translate(357.2 455.88)">Glycolysis / Gluconeogenesis</text>
<text class="r" transform="translate(357.2 472.88)" dx="0 0 0 .23 0 -.38">Pyruvate Metabolism</text>
<text class="r" transform="translate(357.2 489.88)" dx="0 0 0 -.31 -.46 0 0 0 0 0 0 0 0 0 0 0 0 0 0 0 0 0 -.46">Glyoxylate and Dicarboxylate Metabolism</text>
<text class="r" transform="translate(357.2 506.88)" dx="0 0 0 0 0 0 0 -.46 0 .38">Sugar Fermentation</text>
<text class="r" transform="translate(357.2 523.88)">Butanoate Metabolism</text>
<text class="r" transform="translate(357.2 540.88)">Propanoate Metabolism</text>
<text class="r" transform="translate(357.2 557.88)" dx="0 0 0 0 -.15">Citrate Cycle</text>
<text class="r" transform="translate(357.2 574.88)" dx="0 -.77 0 0 0 0 0 0 0 0 0 0 0 0 0 0 0 0 0 -.61 0 0 0 -.23 -.46">Pentose Phosphate Pathway</text>
<text class="r" transform="translate(357.2 591.87)">Inositol Phosphate Metabolism</text>
<text class="r" transform="translate(357.2 608.87)" dx="0 0 0 0 .21 .21 0 0 0 0 0 0 0 0 0 0 0 0 0 0 0 -.15 -.15">Long–Chain Alkane Degradation</text>
<text class="r" transform="translate(357.2 625.87)" dx="0 0 0 0 0 0 0 0 0 0 0 0 0 0 0 0 0 .21 .21 0 0 -.31 0 0 0 0 0 0 -.15 -.15">Chloroalkane and –alkene Degradation</text>
<text class="r" transform="translate(357.2 642.87)" dx="0 0 0 0 0 0 0 0 0 0 0 0 0 0 0 0 0 0 0 0 0 0 0 -.15 -.15">Limonene and Pinene Degradation</text>
<text class="r" transform="translate(357.2 659.87)" dx="0 0 0 -.15 0 0 0 0 0 0 0 0 -.15 -.15">Geraniol Degradation</text>
<text class="r" transform="translate(357.2 676.87)" dx="0 -.61 0 0 0 0 0 0 0 0 -.15 -.15">Ketone Degradation</text>
<text class="r" transform="translate(357.2 693.87)" dx="0 0 0 0 0 0 0 0 0 0 0 0 0 0 0 -.15 -.15">Caprolactam Degradation</text>
<text class="r" transform="translate(357.2 710.87)" dx="0 0 0 0 0 0 0 0 0 0 0 -.15 -.15">Plastic Degradation</text>
<text class="r" transform="translate(357.2 727.87)" dx="0 0 0 -.46 0 0 0 0 0 0 -.15 -.15">Dioxin Degradation</text>
<text class="r" transform="translate(357.2 744.86)" dx="0 -1.07 0 .23 0 0 0 0 0 0 0 0 0 0 0 0 0 0 0 0 0 0 0 0 0 0 0 0 0 -.15 -.15">Various Aromatic Compound Degradation</text>
<text class="r" transform="translate(357.2 761.86)" dx="0 0 0 0 0 0 0 0 0 0 0 0 0 0 0 0 0 0 0 0 0 0 0 0 -.15 -.15">Aromatic Hydrocarbon Degradation</text>
<text class="r" transform="translate(357.2 778.86)" dx="0 0 0 0 -.23 0 0 0 0 0 0 0 0 0 0 0 .23 0 -.38 0 0 0 -.38 0 0 0 0 -.15 -.15">Benzoate and Derivative Degradation</text>
<text class="r" transform="translate(357.2 795.86)" dx="0 0 0 0 0 0 0 0 0 0 0 0 0 -.46 0 0 0 0 0 0 0 0 0 0 0 0 0 0 0 0 0 0 -.23 0 0 0 0 0 0 -.15 -.15">Chlorocyclohexane and Chlorobenzene Degradation</text>
<text class="r" transform="translate(357.2 812.86)">Other Aromatic Compound Metabolism</text>
<text class="r" transform="translate(357.2 829.86)">Methanogenesis</text>
<text class="r" transform="translate(357.2 846.86)">Methane Oxidation</text>
<text class="r" transform="translate(357.2 863.86)" dx="0 0 0 0 0 0 0 0 0 0 0 0 0 0 0 0 0 -.46">Methanol and Methylamine Oxidation</text>
<text class="r" transform="translate(357.2 880.86)" dx="0 -.46 0 .38 0 0 0 0 0 -.46">Formaldehyde Assimilation</text>
<text class="r" transform="translate(357.2 897.85)" dx="0 0 0 0 0 -.46 0 0 0 0 0 0 0 0 -.46">Carboxydotrophy</text>
<text class="r" transform="translate(357.2 914.85)">Other Carbon Metabolism</text>
<text class="r" transform="translate(357.2 931.85)" dx="0 0 0 0 0 0 0 0 0 0 0 -.15 -.15">Protein Degradation</text>
<text class="r" transform="translate(357.2 948.85)">Amino Acid Metabolism</text>
<text class="r" transform="translate(357.2 965.85)" dx="0 0 .21 .21 0 -.15">C5–Branched Dibasic Acid Metabolism</text>
<text class="r" transform="translate(357.2 982.85)" dx="0 0 0 .38">Carnitine Metabolism</text>
<text class="r" transform="translate(357.2 999.85)" dx="0 0 0 0 0 0 0 0 0 0 0 0 0 -.15 -.15">Allantoin Degradation</text>
<text class="r" transform="translate(357.2 1016.85)">Ureolysis</text>
<text class="r" transform="translate(357.2 1033.84)" dx="0 0 0 0 0 0 0 0 0 0 0 -.77 0 0 -.31">Amine and Polyamine Metabolism</text>
<text class="r" transform="translate(357.2 1050.84)" dx="0 -1.84 .23 0 0 0 0 -.46 0 0 0 0 0 0 0 0 0 0 0 .21 .21 .21 .21 -.46 0 0 0 0 0 0 0 -.15 -.15">Trimethylamine and –N–oxide Degradation</text>
<text class="r" transform="translate(357.2 1067.84)">Ammonia Oxidation</text>
<text class="r" transform="translate(357.2 1084.84)">Nitrogen Fixation</text>
<text class="r" transform="translate(357.2 1101.84)" dx="0 0 0 0 0 0 0 0 0 0 0 .46 0 0 0 0 0 -.15">Assimilatory Nitrate Reduction</text>
<text class="r" transform="translate(357.2 1118.84)" dx="0 0 0 0 0 0 0 0 0 0 0 .46 0 0 0 0 0 .23">Assimilatory Nitrite Reduction</text>
<text class="r" transform="translate(357.2 1135.84)" dx="0 0 0 0 0 0 0 0 0 0 0 0 .46 0 0 0 0 0 -.15">Dissimilatory Nitrate Reduction</text>
<text class="r" transform="translate(357.2 1152.84)" dx="0 0 0 0 0 0 0 0 0 0 0 0 .46 0 0 0 0 0 .23">Dissimilatory Nitrite Reduction</text>
<text class="r" transform="translate(357.2 1169.84)" dx="0 0 0 0 0 0 0 0 0 0 0 0 .46 0 0 0 0 0 .23">Dissimilatory Nitric Oxide Reduction</text>
<text class="r" transform="translate(357.2 1186.83)" dx="0 0 0 0 0 0 0 0 0 0 0 0 .46">Dissimilatory Nitrous Oxide Reduction</text>
<text class="r" transform="translate(357.2 1203.83)">Other Nitrogen Metabolism</text>
<text class="r" transform="translate(357.2 1220.83)" dx="0 0 0 0 0 0 0 0 0 0 0 0 0 0 0 0 -.15 -.15">Organosulfur Degradation</text>
<text class="r" transform="translate(357.2 1237.83)">Sulfur Oxidation</text>
<text class="r" transform="translate(357.2 1254.83)" dx="0 0 0 0 0 0 0 0 0 0 0 .46 0 0 0 0 0 -.46">Assimilatory Sulfate Reduction</text>
<text class="r" transform="translate(357.2 1271.83)" dx="0 0 0 0 0 0 0 0 0 0 0 .46">Assimilatory Sulfite Reduction</text>
<text class="r" transform="translate(357.2 1288.83)" dx="0 0 0 0 0 0 0 0 0 0 0 0 .46 0 0 0 0 0 -.46">Dissimilatory Sulfate Reduction</text>
<text class="r" transform="translate(357.2 1305.83)" dx="0 0 0 0 0 0 0 0 0 0 0 0 .46">Dissimilatory Sulfite Reduction</text>
<text class="r" transform="translate(357.2 1322.83)" dx="0 -1.84 0 0 -.15">Tetrathionate Reduction</text>
<text class="r" transform="translate(357.2 1339.82)" dx="0 0 0 0 0 0 -.46 0 0 0 0 0 -.46 -.46 0 0 0 0 0 0 0 0 0 0 -.15">Dimethylsulfoxide Respiration</text>
<text class="r" transform="translate(357.2 1356.82)" dx="0 0 0 0 0 0 0 0 -.46 0 0 0 0 0 0 0 0 0 -.15">Thiosulfate Respiration</text>
<text class="r" transform="translate(357.2 1373.82)" dx="0 -.77 0 0 0 0 0 0 0 0 0 0 0 0 0 0 0 0 -.15">Polysulfide Respiration</text>
<text class="r" transform="translate(357.2 1390.82)" dx="0 0 0 0 0 0 0 0 0 0 0 -.46">Sulfur Relay System</text>
<text class="r" transform="translate(357.2 1407.82)">Aerobic Hydrogen Oxidation</text>
<text class="r" transform="translate(357.2 1424.82)">Anaerobic Hydrogen Oxidation</text>
<text class="r" transform="translate(357.2 1441.82)" dx="0 0 0 0 0 0 0 0 0 0 0 0 0 0 -.15">Hydrogen Generation</text>
<text class="r" transform="translate(357.2 1458.82)" dx="0 0 0 0 -.46 0 0 0 0 0 0 0 0 0 0 -.15">Caffeate Respiration</text>
<text class="r" transform="translate(357.2 1475.82)" dx="0 0 0 0 0 0 0 0 0 0 0 0 0 0 -.15">Aerobic Respiration</text>
<text class="r" transform="translate(357.2 1492.81)">Carbon Fixation</text>
<text class="r" transform="translate(357.2 1509.81)">Photosynthesis</text>
<text class="r" transform="translate(357.2 1526.81)">Other Energy Metabolism</text>
<text class="r" transform="translate(357.2 1543.81)" dx="0 -.77">Fatty Acid, Lipid and Steroid Metabolism</text>
<text class="r" transform="translate(357.2 1560.81)" dx="0 0 0 -.46 0 0 0 0 0 0 0 0 0 -.77">Cofactor and Vitamin Metabolism</text>
<text class="r" transform="translate(357.2 1577.81)" dx="0 0 0 0 0 0 0 0 0 0 0 0 -.77 0 0 0 0 -.31 0 0 -.46">One Carbon Pool by Folate</text>
<text class="r" transform="translate(357.2 1594.81)">Choline Metabolism</text>
<text class="r" transform="translate(357.2 1611.81)" dx="0 0 0 0 0 0 0 0 .46">Secondary Metabolite Biosynthesis</text>
<text class="r" transform="translate(357.2 1628.81)" dx="0 0 0 0 0 0 0 0 0 0 0 0 0 0 0 0 0 0 0 0 0 0 0 0 0 0 0 0 0 0 0 0 0 0 0 0 0 0 0 0 0 0 -.38">Glutathione and Other Response to Oxidative Stress</text>
<text class="r" transform="translate(357.2 1645.8)">Selenocompound Metabolism</text>
<text class="r" transform="translate(357.2 1662.8)">Iron Metabolism</text>
<text class="r" transform="translate(357.2 1679.8)">Phosphonate and Phosphinate Metabolism</text>
<text class="r" transform="translate(357.2 1696.8)">Unclassified Metabolism</text>
<text class="c" transform="translate(381.49 1705.7) rotate(-90) scale(1 1.05)" fill="#FFE4E1" stroke="#FFE4E1" dx="0 0 0 0 0 0 0 0 -.31">Acanthamunnopsis2</text>
<text class="c" transform="translate(404.88 1705.7) rotate(-90) scale(1 1.05)" fill="#FFE4E1" stroke="#FFE4E1" dx="0 0 0 0 0 0 0 0 -.31">Acanthamunnopsis4</text>
<text class="c" transform="translate(428.27 1705.7) rotate(-90) scale(1 1.05)" fill="#191970" stroke="#191970" dx="0 -.92 0 0 -.23 0 -.31">Vampyroteuthis1</text>
<text class="c" transform="translate(451.66 1705.7) rotate(-90) scale(1 1.05)" fill="#FFB90F" stroke="#FFB90F" dx="0 -1.23">Tomopteris2</text>
<text class="c" transform="translate(475.04 1705.7) rotate(-90) scale(1 1.05)" fill="#191970" stroke="#191970" dx="0 -.92 0 0 -.23 0 -.31">Vampyroteuthis2</text>
<text class="c" transform="translate(498.43 1705.7) rotate(-90) scale(1 1.05)" fill="#FFE4E1" stroke="#FFE4E1" dx="0 0 0 0 0 0 0 0 -.31">Acanthamunnopsis1</text>
<text class="c" transform="translate(521.82 1705.7) rotate(-90) scale(1 1.05)" fill="#FFB90F" stroke="#FFB90F" dx="0 -1.23">Tomopteris1</text>
<text class="c" transform="translate(545.21 1705.7) rotate(-90) scale(1 1.05)" fill="#FFEC8B" stroke="#FFEC8B" dx="0 -.61">Poeobius5</text>
<text class="c" transform="translate(568.59 1705.7) rotate(-90) scale(1 1.05)" fill="#FFE4E1" stroke="#FFE4E1" dx="0 0 0 0 0 0 0 0 -.31">Acanthamunnopsis3</text>
<text class="c" transform="translate(591.98 1705.7) rotate(-90) scale(1 1.05)" fill="#FFEC8B" stroke="#FFEC8B" dx="0 -.61">Poeobius6</text>
<text class="c" transform="translate(615.37 1705.7) rotate(-90) scale(1 1.05)" fill="#EEA9B8" stroke="#EEA9B8" dx="0 0 0 0 0 0 0 .15">Munneurycope2</text>
<text class="c" transform="translate(638.76 1705.7) rotate(-90) scale(1 1.05)" fill="#FFEC8B" stroke="#FFEC8B" dx="0 -.61">Poeobius1</text>
<text class="c" transform="translate(662.14 1705.7) rotate(-90) scale(1 1.05)" fill="#FFEC8B" stroke="#FFEC8B" dx="0 -.61">Poeobius3</text>
<text class="c" transform="translate(685.53 1705.7) rotate(-90) scale(1 1.05)" fill="#FF0000" stroke="#FF0000">Euphausia2</text>
<text class="c" transform="translate(708.92 1705.7) rotate(-90) scale(1 1.05)" fill="#8B1C62" stroke="#8B1C62" dx="0 0 0 0 0 -.23 .15">Eusergestes4</text>
<text class="c" transform="translate(732.31 1705.7) rotate(-90) scale(1 1.05)" fill="#FF0000" stroke="#FF0000">Euphausia3</text>
<text class="c" transform="translate(755.69 1705.7) rotate(-90) scale(1 1.05)" fill="#FF0000" stroke="#FF0000">Euphausia1</text>
<text class="c" transform="translate(779.08 1705.7) rotate(-90) scale(1 1.05)" fill="#FF0000" stroke="#FF0000">Euphausia4</text>
<text class="c" transform="translate(802.47 1705.7) rotate(-90) scale(1 1.05)" fill="#BFEFFF" stroke="#BFEFFF" dx="0 0 0 -.31">Cyclothone2</text>
<text class="c" transform="translate(825.86 1705.7) rotate(-90) scale(1 1.05)" fill="#BFEFFF" stroke="#BFEFFF" dx="0 0 0 -.31">Cyclothone3</text>
<text class="c" transform="translate(849.24 1705.7) rotate(-90) scale(1 1.05)" fill="#BFEFFF" stroke="#BFEFFF" dx="0 0 0 -.31">Cyclothone1</text>
<text class="c" transform="translate(872.63 1705.7) rotate(-90) scale(1 1.05)" fill="#BCD2EE" stroke="#BCD2EE" dx="0 0 0 -.31">Cyclothone4</text>
<text class="c" transform="translate(896.02 1705.7) rotate(-90) scale(1 1.05)" fill="#4876FF" stroke="#4876FF" dx="0 0 0 0 0 0 0 0 0 -.15">Stenobrachius2</text>
<text class="c" transform="translate(919.41 1705.7) rotate(-90) scale(1 1.05)" fill="#FFEC8B" stroke="#FFEC8B" dx="0 -.61">Poeobius4</text>
<text class="c" transform="translate(942.79 1705.7) rotate(-90) scale(1 1.05)" fill="#EEA9B8" stroke="#EEA9B8" dx="0 0 0 0 0 0 0 .15">Munneurycope1</text>
<text class="c" transform="translate(966.18 1705.7) rotate(-90) scale(1 1.05)" fill="#EEA9B8" stroke="#EEA9B8" dx="0 0 0 0 0 0 0 .15">Munneurycope3</text>
<text class="c" transform="translate(989.57 1705.7) rotate(-90) scale(1 1.05)" fill="#8B1C62" stroke="#8B1C62" dx="0 0 0 0 0 -.23 .15">Eusergestes3</text>
<text class="c" transform="translate(1012.96 1705.7) rotate(-90) scale(1 1.05)" fill="#8B1C62" stroke="#8B1C62" dx="0 0 0 0 0 -.23 .15">Eusergestes1</text>
<text class="c" transform="translate(1036.34 1705.7) rotate(-90) scale(1 1.05)" fill="#8B1C62" stroke="#8B1C62" dx="0 0 0 0 0 -.23 .15">Eusergestes2</text>
<text class="c" transform="translate(1059.73 1705.7) rotate(-90) scale(1 1.05)" fill="#4876FF" stroke="#4876FF" dx="0 0 0 0 0 0 0 0 0 -.15">Stenobrachius4</text>
<text class="c" transform="translate(1083.12 1705.7) rotate(-90) scale(1 1.05)" fill="#4876FF" stroke="#4876FF" dx="0 0 0 0 0 0 0 0 0 -.15">Stenobrachius1</text>
<text class="c" transform="translate(1106.51 1705.7) rotate(-90) scale(1 1.05)" fill="#4876FF" stroke="#4876FF" dx="0 0 0 0 0 0 0 0 0 -.15">Stenobrachius3</text>
<g>
<rect x="1118.05" y="203.9" width="31.5" height="391.27" fill="#D9D9D9"/>
<rect x="1118.05" y="594.87" width="31.5" height="221.29" fill="#8B8989"/>
<rect x="1118.05" y="815.86" width="31.5" height="102.29" fill="#D9D9D9"/>
<rect x="1118.05" y="917.85" width="31.5" height="68.3" fill="#8B8989"/>
<rect x="1118.05" y="985.85" width="31.5" height="221.29" fill="#D9D9D9"/>
<rect x="1118.05" y="1206.83" width="31.5" height="187.29" fill="#8B8989"/>
<rect x="1118.05" y="1393.82" width="31.5" height="51.3" fill="#D9D9D9"/>
<rect x="1118.05" y="1444.82" width="31.5" height="85.29" fill="#8B8989"/>
<rect x="1118.05" y="1529.81" width="31.5" height="17.3" fill="#D9D9D9"/>
<rect x="1118.05" y="1546.81" width="31.5" height="152.99" fill="#8B8989"/>
</g>
<path d="M1151 382.59H1177.2" stroke="#000" stroke-width="1.64" fill="none"/>
<text class="k" transform="translate(1182.8 389.49)" dx="0 0 0 0 0 0 -.59 0 0 -.2 0 0 0 0 0 0 0 0 0 0 .3 0 -.49 0 0 0 -.49">Carbohydrate and Derivative Metabolism</text>
<path d="M1151 705.57H1177.2" stroke="#000" stroke-width="1.64" fill="none"/>
<text class="k" transform="translate(1182.8 712.47)" dx="0 -1.38 0 .3 0 0 0 0 0 0 0 0 0 0 0 0 0 0 0 0 0 0 0 0 0 0 0 0 -.2 -.2">Various Organic Compound Degradation</text>
<path d="M1151 858.56H1177.2" stroke="#000" stroke-width="1.64" fill="none"/>
<text class="k" transform="translate(1182.8 865.46)" dx="0 0 0 0 0 0 0 -.3">Methane, Methanol and Other Carbon Metabolism</text>
<path d="M1151 943.55H1177.2" stroke="#000" stroke-width="1.64" fill="none"/>
<text class="k" transform="translate(1182.8 950.45)">Protein and Amino Acid Metabolism</text>
<path d="M1151 1096.54H1177.2" stroke="#000" stroke-width="1.64" fill="none"/>
<text class="k" transform="translate(1182.8 1103.44)">Nitrogen Metabolism</text>
<path d="M1151 1300.53H1177.2" stroke="#000" stroke-width="1.64" fill="none"/>
<text class="k" transform="translate(1182.8 1307.43)">Sulfur Metabolism</text>
<path d="M1151 1419.52H1177.2" stroke="#000" stroke-width="1.64" fill="none"/>
<text class="k" transform="translate(1182.8 1426.42)">Hydrogen Metabolism</text>
<path d="M1151 1487.51H1177.2" stroke="#000" stroke-width="1.64" fill="none"/>
<text class="k" transform="translate(1182.8 1494.41)" dx="0 0 0 0 0 0 0 0 0 0 0 0 -.2 0 0 0 .59">Other Respiratory and Energy Metabolism</text>
<path d="M1151 1538.51H1177.2" stroke="#000" stroke-width="1.64" fill="none"/>
<text class="k" transform="translate(1182.8 1545.41)" dx="0 -.99">Fatty Acid, Lipid and Steroid Metabolism</text>
<path d="M1151 1623.51H1177.2" stroke="#000" stroke-width="1.64" fill="none"/>
<text class="k" transform="translate(1182.8 1630.41)" dx="0 0 0 -.59 0 0 0 0 -.99 0 0 0 0 0 0 0 0 0 .59">Cofactor, Secondary and Other Metabolism</text>
<text class="t" transform="translate(1678.2 532.3) scale(1 1.02)">Migration</text>
<rect x="1678.9" y="545.3" width="23" height="23" fill="#668B8B"/>
<text class="l" transform="translate(1708.9 564.8)" dx="0 -3.07">Yes</text>
<rect x="1678.9" y="570.3" width="23" height="23" fill="#8B475D"/>
<text class="l" transform="translate(1708.9 589.8)">No</text>
<rect x="1678.9" y="595.3" width="23" height="23" fill="#A9A9A9"/>
<text class="l" transform="translate(1708.9 614.8)" dx="0 0 0 0 0 -.33">Unknown</text>
<text class="t" transform="translate(1678.2 660.4) scale(1 1.02)">Diet</text>
<rect x="1678.9" y="673.4" width="23" height="23" fill="#F4A460"/>
<text class="l" transform="translate(1708.9 692.9)" dx="0 0 0 0 .33">Detritus</text>
<rect x="1678.9" y="698.4" width="23" height="23" fill="#006400"/>
<text class="l" transform="translate(1708.9 717.9)" dx="0 0 -.66">Phytoplankton</text>
<rect x="1678.9" y="723.4" width="23" height="23" fill="#8B4513"/>
<text class="l" transform="translate(1708.9 742.9)">Zooplankton</text>
<text class="t" transform="translate(1678.2 788.4) scale(1 1.02)">Depth</text>
<rect x="1678.9" y="801.4" width="23" height="23" fill="#EFF3FF"/>
<text class="l" transform="translate(1708.9 820.9)">242</text>
<rect x="1678.9" y="826.4" width="23" height="23" fill="#BDD7E7"/>
<text class="l" transform="translate(1708.9 845.9)">308</text>
<rect x="1678.9" y="851.4" width="23" height="23" fill="#2171B5"/>
<text class="l" transform="translate(1708.9 870.9)" dx="0 0 0 .31 .31">817–862</text>
<rect x="1678.9" y="876.4" width="23" height="23" fill="#00336F"/>
<text class="l" transform="translate(1708.9 895.9)" dx="0 0 0 0 .31 .31">1120–1150</text>
<text class="t" transform="translate(1678.2 941.4) scale(1 1.02)">Host</text>
<rect x="1678.9" y="954.4" width="23" height="23" fill="#FFE4E1"/>
<text class="l i" transform="translate(1710.5 973.9)" dx="0 0 0 0 0 0 0 0 -.22 0 0 0 0 0 0 0 0 0 0 0 0 0 0 .33">Acanthamunnopsis milleri</text>
<rect x="1678.9" y="979.4" width="23" height="23" fill="#BFEFFF"/>
<text class="l i" transform="translate(1710.5 998.9)" dx="0 0 0 0 0 0 0 0 0 0 0 0 0 0 -.22 0 .33">Cyclothone atraria</text>
<rect x="1678.9" y="1004.4" width="23" height="23" fill="#BCD2EE"/>
<text class="l i" transform="translate(1710.5 1023.9)">Cyclothone signata</text>
<rect x="1678.9" y="1029.4" width="23" height="23" fill="#FF0000"/>
<text class="l i" transform="translate(1710.5 1048.9)">Euphausia pacifica</text>
<rect x="1678.9" y="1054.4" width="23" height="23" fill="#8B1C62"/>
<text class="l i" transform="translate(1710.5 1073.9)">Eusergestes similis</text>
<rect x="1678.9" y="1079.4" width="23" height="23" fill="#EEA9B8"/>
<text class="l i" transform="translate(1710.5 1098.9)" dx="0 0 0 0 0 0 0 .66 0 0 0 0 0 0 -.22 0 0 -.22 -.66">Munneurycope murrayi</text>
<rect x="1678.9" y="1104.4" width="23" height="23" fill="#FFEC8B"/>
<text class="l i" transform="translate(1710.5 1123.9)" dx="0 -1.09">Poeobius meseres</text>
<rect x="1678.9" y="1129.4" width="23" height="23" fill="#4876FF"/>
<text class="l i" transform="translate(1710.5 1148.9)" dx="0 0 0 0 0 0 0 -.22 0 0 0 0 0 0 0 0 0 0 0 0 0 0 0 .33">Stenobrachius leucopsarus</text>
<rect x="1678.9" y="1154.4" width="23" height="23" fill="#FFB90F"/>
<text class="l i" transform="translate(1710.5 1173.9)" dx="0 -2.63 0 0 0 0 0 0 .33">Tomopteris<tspan style="font-style:normal"> sp.</tspan></text>
<rect x="1678.9" y="1179.4" width="23" height="23" fill="#191970"/>
<text class="l i" transform="translate(1710.5 1198.9)" dx="0 -1.53 0 0 -.66 0 0 0 0 0 0 0 0 0 0 0 0 0 -.66 0 .55">Vampyroteuthis infernalis</text>
<text class="t" transform="translate(1678.2 1244.2) scale(1 1.02)" dx="0 0 -.44">Abundance</text>
<defs><linearGradient id="ab" x1="0" y1="0" x2="0" y2="1"><stop offset="0" stop-color="#6E7B8B"/><stop offset="0.0375" stop-color="#6E7B8B"/><stop offset="0.962" stop-color="#CAE1FF"/><stop offset="1" stop-color="#CAE1FF"/></linearGradient></defs>
<rect x="1677.1" y="1255.1" width="26.5" height="133.4" fill="url(#ab)"/>
<path d="M1677.1 1260.1h6.6M1697 1260.1h6.6" stroke="#fff" stroke-width="1.1" fill="none"/>
<text class="l" transform="translate(1708.6 1268.3)">0.01</text>
<path d="M1677.1 1321.8h6.6M1697 1321.8h6.6" stroke="#fff" stroke-width="1.1" fill="none"/>
<text class="l" transform="translate(1708.6 1330)">0.005</text>
<path d="M1677.1 1383.4h6.6M1697 1383.4h6.6" stroke="#fff" stroke-width="1.1" fill="none"/>
<text class="l" transform="translate(1708.6 1391.6)">0</text>
</svg></body></html>
